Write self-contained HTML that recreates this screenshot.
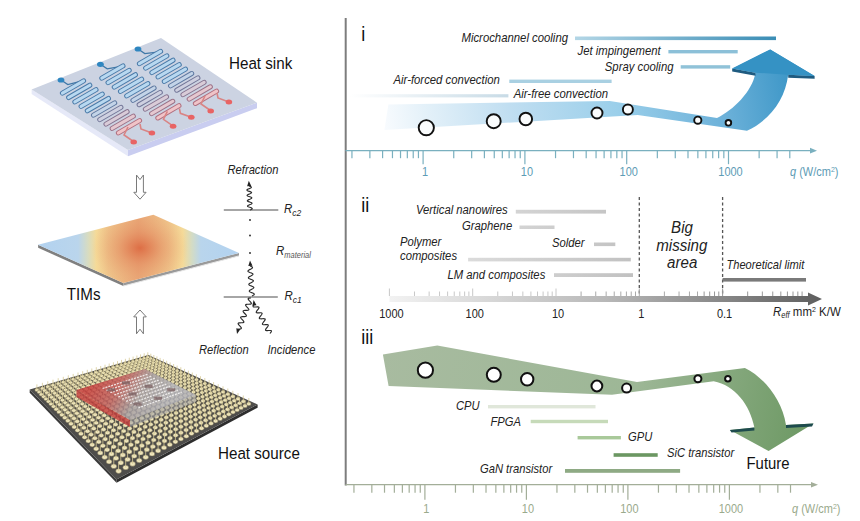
<!DOCTYPE html><html><head><meta charset="utf-8"><style>html,body{margin:0;padding:0;background:#fff;width:860px;height:521px;overflow:hidden}svg{display:block}text{font-family:"Liberation Sans",sans-serif}.it{font-style:italic}</style></head><body>
<svg width="860" height="521" viewBox="0 0 860 521">
<defs>
<linearGradient id="gBlue" gradientUnits="userSpaceOnUse" x1="384" y1="125" x2="800" y2="55"><stop offset="0" stop-color="#f8fbfe"/><stop offset="0.1" stop-color="#e4f1f9"/><stop offset="0.3" stop-color="#c0def1"/><stop offset="0.55" stop-color="#9bcfea"/><stop offset="0.8" stop-color="#6cb1d9"/><stop offset="1" stop-color="#3592c4"/></linearGradient>
<linearGradient id="gShaft" gradientUnits="userSpaceOnUse" x1="0" y1="130" x2="0" y2="50"><stop offset="0" stop-color="#8ec5e3"/><stop offset="1" stop-color="#3893c5"/></linearGradient>
<linearGradient id="gGreen" gradientUnits="userSpaceOnUse" x1="380" y1="360" x2="800" y2="440"><stop offset="0" stop-color="#a8bba0"/><stop offset="0.6" stop-color="#9db796"/><stop offset="1" stop-color="#6f9a66"/></linearGradient>
<linearGradient id="gAxis2" gradientUnits="userSpaceOnUse" x1="390" y1="0" x2="822" y2="0"><stop offset="0" stop-color="#f2f2f2"/><stop offset="0.5" stop-color="#b8b8b8"/><stop offset="1" stop-color="#5e5e5e"/></linearGradient>
<linearGradient id="gMicro" gradientUnits="userSpaceOnUse" x1="575" y1="0" x2="776" y2="0"><stop offset="0" stop-color="#b3d6e6"/><stop offset="1" stop-color="#3a8db5"/></linearGradient>
<linearGradient id="gAirFree" gradientUnits="userSpaceOnUse" x1="350" y1="0" x2="508" y2="0"><stop offset="0" stop-color="#ffffff"/><stop offset="1" stop-color="#c8dbe6"/></linearGradient>
<linearGradient id="gGrayBar" gradientUnits="userSpaceOnUse" x1="400" y1="0" x2="640" y2="0"><stop offset="0" stop-color="#e6e6e6"/><stop offset="1" stop-color="#c0c0c0"/></linearGradient>
<linearGradient id="gTim" gradientUnits="userSpaceOnUse" x1="38" y1="0" x2="239" y2="0"><stop offset="0" stop-color="#b2d2f0"/><stop offset="0.2" stop-color="#bad5ec"/><stop offset="0.25" stop-color="#d8dcc0"/><stop offset="0.29" stop-color="#f5da98"/><stop offset="0.35" stop-color="#efc48a"/><stop offset="0.5" stop-color="#e9a676"/><stop offset="0.65" stop-color="#efc48a"/><stop offset="0.72" stop-color="#f5da98"/><stop offset="0.765" stop-color="#d4dcc4"/><stop offset="0.81" stop-color="#b9d5ec"/><stop offset="1" stop-color="#b2d2f0"/></linearGradient><radialGradient id="gTimC" gradientUnits="userSpaceOnUse" cx="140" cy="248" r="48" gradientTransform="translate(140 248) scale(1 0.75) translate(-140 -248)"><stop offset="0" stop-color="#dc6840" stop-opacity="0.9"/><stop offset="0.45" stop-color="#e2845a" stop-opacity="0.45"/><stop offset="1" stop-color="#e8a070" stop-opacity="0"/></radialGradient>
<linearGradient id="gDie" gradientUnits="userSpaceOnUse" x1="100" y1="372" x2="160" y2="410"><stop offset="0" stop-color="#c83c3c"/><stop offset="0.35" stop-color="#c06060"/><stop offset="0.65" stop-color="#a8a0a4"/><stop offset="1" stop-color="#b4b4bc"/></linearGradient>
<linearGradient id="gSerp" gradientUnits="userSpaceOnUse" x1="70" y1="82" x2="130" y2="135"><stop offset="0" stop-color="#3c8fcf"/><stop offset="0.45" stop-color="#5f90c0"/><stop offset="0.7" stop-color="#a08aa8"/><stop offset="1" stop-color="#e07878"/></linearGradient></defs>
<polygon points="31.6,89.6 128,150 128,156.3 31.6,94.1" fill="#e6e9f8"/>
<polygon points="128,150 257,102.7 257,108.2 128,156.3" fill="#c9cdf0"/>
<polygon points="31.6,89.6 161,38.1 257,102.7 128,150" fill="#ccd3e2"/>
<path d="M61,80 L67.8,84.6 L80.42,81.44" fill="none" stroke="#3f78a8" stroke-width="1.3"/><line x1="62.40" y1="93.10" x2="83.60" y2="80.80" stroke="#4a7aa8" stroke-width="5.0" stroke-linecap="round"/><line x1="62.40" y1="93.10" x2="83.60" y2="80.80" stroke="#b8d8f0" stroke-width="3.1" stroke-linecap="round"/><line x1="68.62" y1="97.52" x2="89.82" y2="85.22" stroke="#4a7aa8" stroke-width="5.0" stroke-linecap="round"/><line x1="68.62" y1="97.52" x2="89.82" y2="85.22" stroke="#b8d8f0" stroke-width="3.1" stroke-linecap="round"/><line x1="74.84" y1="101.94" x2="96.04" y2="89.64" stroke="#4a7aa8" stroke-width="5.0" stroke-linecap="round"/><line x1="74.84" y1="101.94" x2="96.04" y2="89.64" stroke="#b8d8f0" stroke-width="3.1" stroke-linecap="round"/><line x1="81.06" y1="106.36" x2="102.26" y2="94.06" stroke="#4a7aa8" stroke-width="5.0" stroke-linecap="round"/><line x1="81.06" y1="106.36" x2="102.26" y2="94.06" stroke="#b8d8f0" stroke-width="3.1" stroke-linecap="round"/><line x1="87.28" y1="110.78" x2="108.48" y2="98.48" stroke="#4a7aa8" stroke-width="5.0" stroke-linecap="round"/><line x1="87.28" y1="110.78" x2="108.48" y2="98.48" stroke="#b8d8f0" stroke-width="3.1" stroke-linecap="round"/><line x1="93.50" y1="115.20" x2="114.70" y2="102.90" stroke="#5e78a0" stroke-width="5.0" stroke-linecap="round"/><line x1="93.50" y1="115.20" x2="114.70" y2="102.90" stroke="#c3d4e8" stroke-width="3.1" stroke-linecap="round"/><line x1="99.72" y1="119.62" x2="120.92" y2="107.32" stroke="#727698" stroke-width="5.0" stroke-linecap="round"/><line x1="99.72" y1="119.62" x2="120.92" y2="107.32" stroke="#ced0e0" stroke-width="3.1" stroke-linecap="round"/><line x1="105.94" y1="124.04" x2="127.14" y2="111.74" stroke="#877490" stroke-width="5.0" stroke-linecap="round"/><line x1="105.94" y1="124.04" x2="127.14" y2="111.74" stroke="#d9ccd8" stroke-width="3.1" stroke-linecap="round"/><line x1="112.16" y1="128.46" x2="133.36" y2="116.16" stroke="#9b7288" stroke-width="5.0" stroke-linecap="round"/><line x1="112.16" y1="128.46" x2="133.36" y2="116.16" stroke="#e5c8d0" stroke-width="3.1" stroke-linecap="round"/><line x1="118.38" y1="132.88" x2="139.58" y2="120.58" stroke="#b07080" stroke-width="5.0" stroke-linecap="round"/><line x1="118.38" y1="132.88" x2="139.58" y2="120.58" stroke="#f0c4c8" stroke-width="3.1" stroke-linecap="round"/><path d="M128,127 L124,135 L133.5,141.5 M140,124 L141,129 L151.9,133" fill="none" stroke="#d98484" stroke-width="1.6"/><ellipse cx="61" cy="80" rx="3.4" ry="2.6" fill="#2f86c0"/><ellipse cx="133.7" cy="142" rx="3.3" ry="2.5" fill="#e86464"/><ellipse cx="151.9" cy="133" rx="3.3" ry="2.5" fill="#e86464"/>
<path d="M100.4,64.3 L107.19999999999999,68.89999999999999 L119.82,66.54" fill="none" stroke="#3f78a8" stroke-width="1.3"/><line x1="101.80" y1="78.20" x2="123.00" y2="65.90" stroke="#4a7aa8" stroke-width="5.0" stroke-linecap="round"/><line x1="101.80" y1="78.20" x2="123.00" y2="65.90" stroke="#b8d8f0" stroke-width="3.1" stroke-linecap="round"/><line x1="108.02" y1="82.62" x2="129.22" y2="70.32" stroke="#4a7aa8" stroke-width="5.0" stroke-linecap="round"/><line x1="108.02" y1="82.62" x2="129.22" y2="70.32" stroke="#b8d8f0" stroke-width="3.1" stroke-linecap="round"/><line x1="114.24" y1="87.04" x2="135.44" y2="74.74" stroke="#4a7aa8" stroke-width="5.0" stroke-linecap="round"/><line x1="114.24" y1="87.04" x2="135.44" y2="74.74" stroke="#b8d8f0" stroke-width="3.1" stroke-linecap="round"/><line x1="120.46" y1="91.46" x2="141.66" y2="79.16" stroke="#4a7aa8" stroke-width="5.0" stroke-linecap="round"/><line x1="120.46" y1="91.46" x2="141.66" y2="79.16" stroke="#b8d8f0" stroke-width="3.1" stroke-linecap="round"/><line x1="126.68" y1="95.88" x2="147.88" y2="83.58" stroke="#4a7aa8" stroke-width="5.0" stroke-linecap="round"/><line x1="126.68" y1="95.88" x2="147.88" y2="83.58" stroke="#b8d8f0" stroke-width="3.1" stroke-linecap="round"/><line x1="132.90" y1="100.30" x2="154.10" y2="88.00" stroke="#5e78a0" stroke-width="5.0" stroke-linecap="round"/><line x1="132.90" y1="100.30" x2="154.10" y2="88.00" stroke="#c3d4e8" stroke-width="3.1" stroke-linecap="round"/><line x1="139.12" y1="104.72" x2="160.32" y2="92.42" stroke="#727698" stroke-width="5.0" stroke-linecap="round"/><line x1="139.12" y1="104.72" x2="160.32" y2="92.42" stroke="#ced0e0" stroke-width="3.1" stroke-linecap="round"/><line x1="145.34" y1="109.14" x2="166.54" y2="96.84" stroke="#877490" stroke-width="5.0" stroke-linecap="round"/><line x1="145.34" y1="109.14" x2="166.54" y2="96.84" stroke="#d9ccd8" stroke-width="3.1" stroke-linecap="round"/><line x1="151.56" y1="113.56" x2="172.76" y2="101.26" stroke="#9b7288" stroke-width="5.0" stroke-linecap="round"/><line x1="151.56" y1="113.56" x2="172.76" y2="101.26" stroke="#e5c8d0" stroke-width="3.1" stroke-linecap="round"/><line x1="157.78" y1="117.98" x2="178.98" y2="105.68" stroke="#b07080" stroke-width="5.0" stroke-linecap="round"/><line x1="157.78" y1="117.98" x2="178.98" y2="105.68" stroke="#f0c4c8" stroke-width="3.1" stroke-linecap="round"/><path d="M167.4,111.3 L163.4,119.3 L172.9,125.8 M179.4,108.3 L180.4,113.3 L191.3,117.3" fill="none" stroke="#d98484" stroke-width="1.6"/><ellipse cx="100.4" cy="64.3" rx="3.4" ry="2.6" fill="#2f86c0"/><ellipse cx="173.1" cy="126.3" rx="3.3" ry="2.5" fill="#e86464"/><ellipse cx="191.3" cy="117.3" rx="3.3" ry="2.5" fill="#e86464"/>
<path d="M138,49 L144.8,53.599999999999994 L157.42,52.04" fill="none" stroke="#3f78a8" stroke-width="1.3"/><line x1="139.40" y1="63.70" x2="160.60" y2="51.40" stroke="#4a7aa8" stroke-width="5.0" stroke-linecap="round"/><line x1="139.40" y1="63.70" x2="160.60" y2="51.40" stroke="#b8d8f0" stroke-width="3.1" stroke-linecap="round"/><line x1="145.62" y1="68.12" x2="166.82" y2="55.82" stroke="#4a7aa8" stroke-width="5.0" stroke-linecap="round"/><line x1="145.62" y1="68.12" x2="166.82" y2="55.82" stroke="#b8d8f0" stroke-width="3.1" stroke-linecap="round"/><line x1="151.84" y1="72.54" x2="173.04" y2="60.24" stroke="#4a7aa8" stroke-width="5.0" stroke-linecap="round"/><line x1="151.84" y1="72.54" x2="173.04" y2="60.24" stroke="#b8d8f0" stroke-width="3.1" stroke-linecap="round"/><line x1="158.06" y1="76.96" x2="179.26" y2="64.66" stroke="#4a7aa8" stroke-width="5.0" stroke-linecap="round"/><line x1="158.06" y1="76.96" x2="179.26" y2="64.66" stroke="#b8d8f0" stroke-width="3.1" stroke-linecap="round"/><line x1="164.28" y1="81.38" x2="185.48" y2="69.08" stroke="#4a7aa8" stroke-width="5.0" stroke-linecap="round"/><line x1="164.28" y1="81.38" x2="185.48" y2="69.08" stroke="#b8d8f0" stroke-width="3.1" stroke-linecap="round"/><line x1="170.50" y1="85.80" x2="191.70" y2="73.50" stroke="#5e78a0" stroke-width="5.0" stroke-linecap="round"/><line x1="170.50" y1="85.80" x2="191.70" y2="73.50" stroke="#c3d4e8" stroke-width="3.1" stroke-linecap="round"/><line x1="176.72" y1="90.22" x2="197.92" y2="77.92" stroke="#727698" stroke-width="5.0" stroke-linecap="round"/><line x1="176.72" y1="90.22" x2="197.92" y2="77.92" stroke="#ced0e0" stroke-width="3.1" stroke-linecap="round"/><line x1="182.94" y1="94.64" x2="204.14" y2="82.34" stroke="#877490" stroke-width="5.0" stroke-linecap="round"/><line x1="182.94" y1="94.64" x2="204.14" y2="82.34" stroke="#d9ccd8" stroke-width="3.1" stroke-linecap="round"/><line x1="189.16" y1="99.06" x2="210.36" y2="86.76" stroke="#9b7288" stroke-width="5.0" stroke-linecap="round"/><line x1="189.16" y1="99.06" x2="210.36" y2="86.76" stroke="#e5c8d0" stroke-width="3.1" stroke-linecap="round"/><line x1="195.38" y1="103.48" x2="216.58" y2="91.18" stroke="#b07080" stroke-width="5.0" stroke-linecap="round"/><line x1="195.38" y1="103.48" x2="216.58" y2="91.18" stroke="#f0c4c8" stroke-width="3.1" stroke-linecap="round"/><path d="M205,96 L201,104 L210.5,110.5 M217,93 L218,98 L228.9,102" fill="none" stroke="#d98484" stroke-width="1.6"/><ellipse cx="138" cy="49" rx="3.4" ry="2.6" fill="#2f86c0"/><ellipse cx="210.7" cy="111" rx="3.3" ry="2.5" fill="#e86464"/><ellipse cx="228.9" cy="102" rx="3.3" ry="2.5" fill="#e86464"/>
<polygon points="38.1,244.8 123.3,283 123.3,286 38.1,247.8" fill="#808080"/>
<polygon points="123.3,283 239,252.9 239,255.9 123.3,286" fill="#9a9a9a"/>
<polygon points="38.1,244.8 153.4,214.7 239,252.9 123.3,283" fill="url(#gTim)" />
<polygon points="38.1,244.8 153.4,214.7 239,252.9 123.3,283" fill="url(#gTimC)"/>
<line x1="123.3" y1="286" x2="239" y2="255.9" stroke="#e8e8e8" stroke-width="1"/>
<polygon points="29.7,389.5 116.5,479.5 116.5,482.7 29.7,392.7" fill="#3a3a3a"/>
<polygon points="116.5,479.5 257.6,404.5 257.6,407.7 116.5,482.7" fill="#2e2e2e"/>
<polygon points="29.7,389.5 148.4,355 257.6,404.5 116.5,479.5" fill="#4e4d4b"/>
<g fill="#efe6bc" stroke="#6c6248" stroke-width="0.45"><ellipse cx="36.9" cy="390.0" rx="2.15" ry="1.72"/><ellipse cx="39.1" cy="392.1" rx="2.17" ry="1.73"/><ellipse cx="41.3" cy="394.4" rx="2.18" ry="1.75"/><ellipse cx="43.7" cy="396.7" rx="2.20" ry="1.76"/><ellipse cx="46.0" cy="399.0" rx="2.23" ry="1.78"/><ellipse cx="48.5" cy="401.5" rx="2.25" ry="1.80"/><ellipse cx="51.0" cy="404.0" rx="2.27" ry="1.82"/><ellipse cx="53.6" cy="406.5" rx="2.29" ry="1.83"/><ellipse cx="56.3" cy="409.2" rx="2.32" ry="1.85"/><ellipse cx="59.0" cy="411.9" rx="2.34" ry="1.87"/><ellipse cx="61.9" cy="414.8" rx="2.37" ry="1.89"/><ellipse cx="64.8" cy="417.7" rx="2.39" ry="1.91"/><ellipse cx="67.9" cy="420.7" rx="2.42" ry="1.94"/><ellipse cx="71.0" cy="423.8" rx="2.45" ry="1.96"/><ellipse cx="74.2" cy="427.0" rx="2.48" ry="1.99"/><ellipse cx="77.6" cy="430.3" rx="2.51" ry="2.01"/><ellipse cx="81.0" cy="433.8" rx="2.55" ry="2.04"/><ellipse cx="84.6" cy="437.3" rx="2.58" ry="2.06"/><ellipse cx="88.3" cy="441.0" rx="2.62" ry="2.09"/><ellipse cx="92.2" cy="444.8" rx="2.65" ry="2.12"/><ellipse cx="96.2" cy="448.8" rx="2.69" ry="2.16"/><ellipse cx="100.3" cy="452.9" rx="2.74" ry="2.19"/><ellipse cx="104.7" cy="457.2" rx="2.78" ry="2.22"/><ellipse cx="109.1" cy="461.7" rx="2.82" ry="2.26"/><ellipse cx="113.8" cy="466.3" rx="2.87" ry="2.30"/><ellipse cx="118.6" cy="471.1" rx="2.92" ry="2.34"/><ellipse cx="42.4" cy="388.4" rx="2.13" ry="1.71"/><ellipse cx="44.6" cy="390.5" rx="2.15" ry="1.72"/><ellipse cx="46.9" cy="392.7" rx="2.17" ry="1.74"/><ellipse cx="49.3" cy="394.9" rx="2.19" ry="1.75"/><ellipse cx="51.7" cy="397.2" rx="2.21" ry="1.77"/><ellipse cx="54.2" cy="399.6" rx="2.23" ry="1.78"/><ellipse cx="56.8" cy="402.1" rx="2.25" ry="1.80"/><ellipse cx="59.5" cy="404.6" rx="2.28" ry="1.82"/><ellipse cx="62.2" cy="407.2" rx="2.30" ry="1.84"/><ellipse cx="65.0" cy="409.8" rx="2.32" ry="1.86"/><ellipse cx="67.9" cy="412.6" rx="2.35" ry="1.88"/><ellipse cx="70.9" cy="415.5" rx="2.37" ry="1.90"/><ellipse cx="74.0" cy="418.4" rx="2.40" ry="1.92"/><ellipse cx="77.2" cy="421.4" rx="2.43" ry="1.94"/><ellipse cx="80.5" cy="424.6" rx="2.46" ry="1.97"/><ellipse cx="83.9" cy="427.8" rx="2.49" ry="1.99"/><ellipse cx="87.5" cy="431.2" rx="2.52" ry="2.02"/><ellipse cx="91.1" cy="434.6" rx="2.56" ry="2.04"/><ellipse cx="94.9" cy="438.2" rx="2.59" ry="2.07"/><ellipse cx="98.8" cy="441.9" rx="2.63" ry="2.10"/><ellipse cx="102.9" cy="445.8" rx="2.67" ry="2.13"/><ellipse cx="107.1" cy="449.8" rx="2.71" ry="2.16"/><ellipse cx="111.5" cy="454.0" rx="2.75" ry="2.20"/><ellipse cx="116.0" cy="458.3" rx="2.79" ry="2.23"/><ellipse cx="120.8" cy="462.8" rx="2.84" ry="2.27"/><ellipse cx="125.7" cy="467.5" rx="2.89" ry="2.31"/><ellipse cx="47.8" cy="386.8" rx="2.12" ry="1.70"/><ellipse cx="50.1" cy="388.9" rx="2.14" ry="1.71"/><ellipse cx="52.4" cy="391.0" rx="2.16" ry="1.73"/><ellipse cx="54.8" cy="393.2" rx="2.18" ry="1.74"/><ellipse cx="57.3" cy="395.5" rx="2.20" ry="1.76"/><ellipse cx="59.9" cy="397.8" rx="2.22" ry="1.77"/><ellipse cx="62.5" cy="400.2" rx="2.24" ry="1.79"/><ellipse cx="65.2" cy="402.7" rx="2.26" ry="1.81"/><ellipse cx="68.0" cy="405.2" rx="2.28" ry="1.83"/><ellipse cx="70.9" cy="407.8" rx="2.30" ry="1.84"/><ellipse cx="73.9" cy="410.5" rx="2.33" ry="1.86"/><ellipse cx="76.9" cy="413.3" rx="2.35" ry="1.88"/><ellipse cx="80.1" cy="416.2" rx="2.38" ry="1.90"/><ellipse cx="83.3" cy="419.1" rx="2.41" ry="1.93"/><ellipse cx="86.7" cy="422.2" rx="2.44" ry="1.95"/><ellipse cx="90.2" cy="425.3" rx="2.47" ry="1.97"/><ellipse cx="93.8" cy="428.6" rx="2.50" ry="2.00"/><ellipse cx="97.5" cy="432.0" rx="2.53" ry="2.02"/><ellipse cx="101.3" cy="435.5" rx="2.56" ry="2.05"/><ellipse cx="105.3" cy="439.1" rx="2.60" ry="2.08"/><ellipse cx="109.4" cy="442.9" rx="2.64" ry="2.11"/><ellipse cx="113.7" cy="446.8" rx="2.68" ry="2.14"/><ellipse cx="118.2" cy="450.8" rx="2.72" ry="2.17"/><ellipse cx="122.8" cy="455.0" rx="2.76" ry="2.21"/><ellipse cx="127.6" cy="459.4" rx="2.80" ry="2.24"/><ellipse cx="132.6" cy="463.9" rx="2.85" ry="2.28"/><ellipse cx="53.0" cy="385.2" rx="2.11" ry="1.69"/><ellipse cx="55.4" cy="387.3" rx="2.13" ry="1.70"/><ellipse cx="57.8" cy="389.4" rx="2.14" ry="1.71"/><ellipse cx="60.3" cy="391.5" rx="2.16" ry="1.73"/><ellipse cx="62.8" cy="393.7" rx="2.18" ry="1.74"/><ellipse cx="65.4" cy="396.0" rx="2.20" ry="1.76"/><ellipse cx="68.1" cy="398.4" rx="2.22" ry="1.78"/><ellipse cx="70.8" cy="400.8" rx="2.24" ry="1.79"/><ellipse cx="73.7" cy="403.3" rx="2.26" ry="1.81"/><ellipse cx="76.6" cy="405.8" rx="2.29" ry="1.83"/><ellipse cx="79.6" cy="408.4" rx="2.31" ry="1.85"/><ellipse cx="82.8" cy="411.2" rx="2.34" ry="1.87"/><ellipse cx="86.0" cy="414.0" rx="2.36" ry="1.89"/><ellipse cx="89.3" cy="416.9" rx="2.39" ry="1.91"/><ellipse cx="92.7" cy="419.9" rx="2.42" ry="1.93"/><ellipse cx="96.2" cy="422.9" rx="2.45" ry="1.96"/><ellipse cx="99.9" cy="426.1" rx="2.48" ry="1.98"/><ellipse cx="103.6" cy="429.4" rx="2.51" ry="2.01"/><ellipse cx="107.6" cy="432.8" rx="2.54" ry="2.03"/><ellipse cx="111.6" cy="436.4" rx="2.57" ry="2.06"/><ellipse cx="115.8" cy="440.0" rx="2.61" ry="2.09"/><ellipse cx="120.1" cy="443.8" rx="2.65" ry="2.12"/><ellipse cx="124.6" cy="447.8" rx="2.69" ry="2.15"/><ellipse cx="129.3" cy="451.8" rx="2.73" ry="2.18"/><ellipse cx="134.2" cy="456.1" rx="2.77" ry="2.22"/><ellipse cx="139.2" cy="460.5" rx="2.82" ry="2.25"/><ellipse cx="58.2" cy="383.7" rx="2.10" ry="1.68"/><ellipse cx="60.6" cy="385.7" rx="2.11" ry="1.69"/><ellipse cx="63.1" cy="387.7" rx="2.13" ry="1.70"/><ellipse cx="65.6" cy="389.9" rx="2.15" ry="1.72"/><ellipse cx="68.2" cy="392.0" rx="2.17" ry="1.73"/><ellipse cx="70.8" cy="394.3" rx="2.19" ry="1.75"/><ellipse cx="73.5" cy="396.6" rx="2.21" ry="1.76"/><ellipse cx="76.4" cy="398.9" rx="2.23" ry="1.78"/><ellipse cx="79.2" cy="401.4" rx="2.25" ry="1.80"/><ellipse cx="82.2" cy="403.9" rx="2.27" ry="1.82"/><ellipse cx="85.3" cy="406.4" rx="2.29" ry="1.84"/><ellipse cx="88.5" cy="409.1" rx="2.32" ry="1.85"/><ellipse cx="91.7" cy="411.8" rx="2.34" ry="1.87"/><ellipse cx="95.1" cy="414.7" rx="2.37" ry="1.90"/><ellipse cx="98.6" cy="417.6" rx="2.40" ry="1.92"/><ellipse cx="102.1" cy="420.6" rx="2.42" ry="1.94"/><ellipse cx="105.9" cy="423.7" rx="2.45" ry="1.96"/><ellipse cx="109.7" cy="426.9" rx="2.48" ry="1.99"/><ellipse cx="113.6" cy="430.2" rx="2.52" ry="2.01"/><ellipse cx="117.7" cy="433.7" rx="2.55" ry="2.04"/><ellipse cx="122.0" cy="437.3" rx="2.58" ry="2.07"/><ellipse cx="126.4" cy="440.9" rx="2.62" ry="2.10"/><ellipse cx="130.9" cy="444.8" rx="2.66" ry="2.13"/><ellipse cx="135.7" cy="448.7" rx="2.70" ry="2.16"/><ellipse cx="140.6" cy="452.9" rx="2.74" ry="2.19"/><ellipse cx="145.7" cy="457.2" rx="2.78" ry="2.23"/><ellipse cx="63.3" cy="382.2" rx="2.08" ry="1.67"/><ellipse cx="65.7" cy="384.2" rx="2.10" ry="1.68"/><ellipse cx="68.2" cy="386.2" rx="2.12" ry="1.69"/><ellipse cx="70.8" cy="388.2" rx="2.13" ry="1.71"/><ellipse cx="73.4" cy="390.4" rx="2.15" ry="1.72"/><ellipse cx="76.1" cy="392.6" rx="2.17" ry="1.74"/><ellipse cx="78.9" cy="394.8" rx="2.19" ry="1.75"/><ellipse cx="81.7" cy="397.1" rx="2.21" ry="1.77"/><ellipse cx="84.7" cy="399.5" rx="2.23" ry="1.79"/><ellipse cx="87.7" cy="401.9" rx="2.25" ry="1.80"/><ellipse cx="90.8" cy="404.5" rx="2.28" ry="1.82"/><ellipse cx="94.0" cy="407.1" rx="2.30" ry="1.84"/><ellipse cx="97.4" cy="409.7" rx="2.32" ry="1.86"/><ellipse cx="100.8" cy="412.5" rx="2.35" ry="1.88"/><ellipse cx="104.3" cy="415.4" rx="2.38" ry="1.90"/><ellipse cx="107.9" cy="418.3" rx="2.40" ry="1.92"/><ellipse cx="111.7" cy="421.3" rx="2.43" ry="1.95"/><ellipse cx="115.6" cy="424.5" rx="2.46" ry="1.97"/><ellipse cx="119.6" cy="427.7" rx="2.49" ry="1.99"/><ellipse cx="123.7" cy="431.1" rx="2.52" ry="2.02"/><ellipse cx="128.0" cy="434.5" rx="2.56" ry="2.05"/><ellipse cx="132.5" cy="438.1" rx="2.59" ry="2.07"/><ellipse cx="137.1" cy="441.9" rx="2.63" ry="2.10"/><ellipse cx="141.9" cy="445.7" rx="2.67" ry="2.13"/><ellipse cx="146.8" cy="449.7" rx="2.71" ry="2.17"/><ellipse cx="152.0" cy="453.9" rx="2.75" ry="2.20"/><ellipse cx="68.3" cy="380.7" rx="2.07" ry="1.66"/><ellipse cx="70.7" cy="382.6" rx="2.09" ry="1.67"/><ellipse cx="73.3" cy="384.6" rx="2.10" ry="1.68"/><ellipse cx="75.9" cy="386.7" rx="2.12" ry="1.70"/><ellipse cx="78.6" cy="388.7" rx="2.14" ry="1.71"/><ellipse cx="81.3" cy="390.9" rx="2.16" ry="1.73"/><ellipse cx="84.1" cy="393.1" rx="2.18" ry="1.74"/><ellipse cx="87.0" cy="395.3" rx="2.20" ry="1.76"/><ellipse cx="90.0" cy="397.7" rx="2.22" ry="1.77"/><ellipse cx="93.1" cy="400.1" rx="2.24" ry="1.79"/><ellipse cx="96.3" cy="402.5" rx="2.26" ry="1.81"/><ellipse cx="99.5" cy="405.1" rx="2.28" ry="1.83"/><ellipse cx="102.9" cy="407.7" rx="2.31" ry="1.85"/><ellipse cx="106.3" cy="410.4" rx="2.33" ry="1.87"/><ellipse cx="109.9" cy="413.2" rx="2.36" ry="1.89"/><ellipse cx="113.6" cy="416.1" rx="2.38" ry="1.91"/><ellipse cx="117.4" cy="419.0" rx="2.41" ry="1.93"/><ellipse cx="121.3" cy="422.1" rx="2.44" ry="1.95"/><ellipse cx="125.4" cy="425.2" rx="2.47" ry="1.98"/><ellipse cx="129.6" cy="428.5" rx="2.50" ry="2.00"/><ellipse cx="133.9" cy="431.9" rx="2.53" ry="2.03"/><ellipse cx="138.4" cy="435.4" rx="2.57" ry="2.05"/><ellipse cx="143.0" cy="439.0" rx="2.60" ry="2.08"/><ellipse cx="147.9" cy="442.8" rx="2.64" ry="2.11"/><ellipse cx="152.9" cy="446.7" rx="2.68" ry="2.14"/><ellipse cx="158.1" cy="450.8" rx="2.72" ry="2.18"/><ellipse cx="73.2" cy="379.3" rx="2.06" ry="1.65"/><ellipse cx="75.7" cy="381.2" rx="2.08" ry="1.66"/><ellipse cx="78.2" cy="383.1" rx="2.09" ry="1.67"/><ellipse cx="80.9" cy="385.1" rx="2.11" ry="1.69"/><ellipse cx="83.6" cy="387.1" rx="2.13" ry="1.70"/><ellipse cx="86.4" cy="389.2" rx="2.14" ry="1.72"/><ellipse cx="89.3" cy="391.4" rx="2.16" ry="1.73"/><ellipse cx="92.2" cy="393.6" rx="2.18" ry="1.75"/><ellipse cx="95.2" cy="395.9" rx="2.20" ry="1.76"/><ellipse cx="98.3" cy="398.2" rx="2.22" ry="1.78"/><ellipse cx="101.6" cy="400.7" rx="2.24" ry="1.80"/><ellipse cx="104.9" cy="403.1" rx="2.27" ry="1.81"/><ellipse cx="108.3" cy="405.7" rx="2.29" ry="1.83"/><ellipse cx="111.8" cy="408.3" rx="2.31" ry="1.85"/><ellipse cx="115.4" cy="411.1" rx="2.34" ry="1.87"/><ellipse cx="119.1" cy="413.9" rx="2.36" ry="1.89"/><ellipse cx="122.9" cy="416.8" rx="2.39" ry="1.91"/><ellipse cx="126.9" cy="419.8" rx="2.42" ry="1.93"/><ellipse cx="131.0" cy="422.8" rx="2.45" ry="1.96"/><ellipse cx="135.3" cy="426.0" rx="2.48" ry="1.98"/><ellipse cx="139.6" cy="429.3" rx="2.51" ry="2.01"/><ellipse cx="144.2" cy="432.8" rx="2.54" ry="2.03"/><ellipse cx="148.9" cy="436.3" rx="2.58" ry="2.06"/><ellipse cx="153.7" cy="440.0" rx="2.61" ry="2.09"/><ellipse cx="158.8" cy="443.7" rx="2.65" ry="2.12"/><ellipse cx="164.0" cy="447.7" rx="2.69" ry="2.15"/><ellipse cx="78.0" cy="377.9" rx="2.05" ry="1.64"/><ellipse cx="80.5" cy="379.7" rx="2.06" ry="1.65"/><ellipse cx="83.1" cy="381.6" rx="2.08" ry="1.66"/><ellipse cx="85.8" cy="383.6" rx="2.10" ry="1.68"/><ellipse cx="88.6" cy="385.6" rx="2.11" ry="1.69"/><ellipse cx="91.4" cy="387.6" rx="2.13" ry="1.71"/><ellipse cx="94.3" cy="389.7" rx="2.15" ry="1.72"/><ellipse cx="97.3" cy="391.9" rx="2.17" ry="1.73"/><ellipse cx="100.3" cy="394.1" rx="2.19" ry="1.75"/><ellipse cx="103.5" cy="396.4" rx="2.21" ry="1.77"/><ellipse cx="106.7" cy="398.8" rx="2.23" ry="1.78"/><ellipse cx="110.1" cy="401.2" rx="2.25" ry="1.80"/><ellipse cx="113.5" cy="403.7" rx="2.27" ry="1.82"/><ellipse cx="117.1" cy="406.3" rx="2.30" ry="1.84"/><ellipse cx="120.7" cy="409.0" rx="2.32" ry="1.86"/><ellipse cx="124.5" cy="411.7" rx="2.35" ry="1.88"/><ellipse cx="128.4" cy="414.6" rx="2.37" ry="1.90"/><ellipse cx="132.4" cy="417.5" rx="2.40" ry="1.92"/><ellipse cx="136.5" cy="420.5" rx="2.43" ry="1.94"/><ellipse cx="140.8" cy="423.6" rx="2.46" ry="1.96"/><ellipse cx="145.2" cy="426.8" rx="2.49" ry="1.99"/><ellipse cx="149.8" cy="430.2" rx="2.52" ry="2.01"/><ellipse cx="154.5" cy="433.6" rx="2.55" ry="2.04"/><ellipse cx="159.4" cy="437.2" rx="2.59" ry="2.07"/><ellipse cx="164.5" cy="440.9" rx="2.62" ry="2.10"/><ellipse cx="169.8" cy="444.7" rx="2.66" ry="2.13"/><ellipse cx="82.7" cy="376.5" rx="2.04" ry="1.63"/><ellipse cx="85.2" cy="378.3" rx="2.05" ry="1.64"/><ellipse cx="87.9" cy="380.2" rx="2.07" ry="1.66"/><ellipse cx="90.6" cy="382.1" rx="2.09" ry="1.67"/><ellipse cx="93.4" cy="384.0" rx="2.10" ry="1.68"/><ellipse cx="96.3" cy="386.1" rx="2.12" ry="1.70"/><ellipse cx="99.2" cy="388.1" rx="2.14" ry="1.71"/><ellipse cx="102.2" cy="390.3" rx="2.15" ry="1.72"/><ellipse cx="105.3" cy="392.4" rx="2.17" ry="1.74"/><ellipse cx="108.5" cy="394.7" rx="2.19" ry="1.75"/><ellipse cx="111.8" cy="397.0" rx="2.21" ry="1.77"/><ellipse cx="115.2" cy="399.4" rx="2.23" ry="1.79"/><ellipse cx="118.7" cy="401.8" rx="2.26" ry="1.81"/><ellipse cx="122.3" cy="404.4" rx="2.28" ry="1.82"/><ellipse cx="126.0" cy="407.0" rx="2.30" ry="1.84"/><ellipse cx="129.8" cy="409.6" rx="2.33" ry="1.86"/><ellipse cx="133.7" cy="412.4" rx="2.35" ry="1.88"/><ellipse cx="137.7" cy="415.3" rx="2.38" ry="1.90"/><ellipse cx="141.9" cy="418.2" rx="2.41" ry="1.92"/><ellipse cx="146.2" cy="421.2" rx="2.43" ry="1.95"/><ellipse cx="150.7" cy="424.4" rx="2.46" ry="1.97"/><ellipse cx="155.3" cy="427.6" rx="2.49" ry="2.00"/><ellipse cx="160.1" cy="431.0" rx="2.53" ry="2.02"/><ellipse cx="165.0" cy="434.5" rx="2.56" ry="2.05"/><ellipse cx="170.1" cy="438.1" rx="2.60" ry="2.08"/><ellipse cx="175.4" cy="441.8" rx="2.63" ry="2.11"/><ellipse cx="87.3" cy="375.1" rx="2.03" ry="1.62"/><ellipse cx="89.9" cy="376.9" rx="2.04" ry="1.63"/><ellipse cx="92.6" cy="378.7" rx="2.06" ry="1.65"/><ellipse cx="95.3" cy="380.6" rx="2.07" ry="1.66"/><ellipse cx="98.2" cy="382.5" rx="2.09" ry="1.67"/><ellipse cx="101.1" cy="384.5" rx="2.11" ry="1.69"/><ellipse cx="104.1" cy="386.5" rx="2.12" ry="1.70"/><ellipse cx="107.1" cy="388.6" rx="2.14" ry="1.71"/><ellipse cx="110.3" cy="390.8" rx="2.16" ry="1.73"/><ellipse cx="113.5" cy="393.0" rx="2.18" ry="1.74"/><ellipse cx="116.8" cy="395.2" rx="2.20" ry="1.76"/><ellipse cx="120.2" cy="397.6" rx="2.22" ry="1.78"/><ellipse cx="123.7" cy="400.0" rx="2.24" ry="1.79"/><ellipse cx="127.4" cy="402.4" rx="2.26" ry="1.81"/><ellipse cx="131.1" cy="405.0" rx="2.29" ry="1.83"/><ellipse cx="134.9" cy="407.6" rx="2.31" ry="1.85"/><ellipse cx="138.9" cy="410.3" rx="2.33" ry="1.87"/><ellipse cx="143.0" cy="413.1" rx="2.36" ry="1.89"/><ellipse cx="147.2" cy="416.0" rx="2.39" ry="1.91"/><ellipse cx="151.5" cy="418.9" rx="2.41" ry="1.93"/><ellipse cx="156.0" cy="422.0" rx="2.44" ry="1.95"/><ellipse cx="160.7" cy="425.2" rx="2.47" ry="1.98"/><ellipse cx="165.5" cy="428.4" rx="2.50" ry="2.00"/><ellipse cx="170.4" cy="431.8" rx="2.54" ry="2.03"/><ellipse cx="175.6" cy="435.3" rx="2.57" ry="2.06"/><ellipse cx="180.9" cy="439.0" rx="2.61" ry="2.08"/><ellipse cx="91.8" cy="373.8" rx="2.02" ry="1.61"/><ellipse cx="94.5" cy="375.5" rx="2.03" ry="1.63"/><ellipse cx="97.2" cy="377.3" rx="2.05" ry="1.64"/><ellipse cx="100.0" cy="379.2" rx="2.06" ry="1.65"/><ellipse cx="102.8" cy="381.0" rx="2.08" ry="1.66"/><ellipse cx="105.8" cy="383.0" rx="2.09" ry="1.68"/><ellipse cx="108.8" cy="385.0" rx="2.11" ry="1.69"/><ellipse cx="111.9" cy="387.0" rx="2.13" ry="1.70"/><ellipse cx="115.1" cy="389.1" rx="2.15" ry="1.72"/><ellipse cx="118.3" cy="391.3" rx="2.16" ry="1.73"/><ellipse cx="121.7" cy="393.5" rx="2.18" ry="1.75"/><ellipse cx="125.1" cy="395.8" rx="2.20" ry="1.76"/><ellipse cx="128.7" cy="398.1" rx="2.22" ry="1.78"/><ellipse cx="132.3" cy="400.5" rx="2.25" ry="1.80"/><ellipse cx="136.1" cy="403.0" rx="2.27" ry="1.81"/><ellipse cx="140.0" cy="405.6" rx="2.29" ry="1.83"/><ellipse cx="144.0" cy="408.2" rx="2.32" ry="1.85"/><ellipse cx="148.1" cy="411.0" rx="2.34" ry="1.87"/><ellipse cx="152.3" cy="413.8" rx="2.37" ry="1.89"/><ellipse cx="156.7" cy="416.7" rx="2.39" ry="1.91"/><ellipse cx="161.2" cy="419.7" rx="2.42" ry="1.94"/><ellipse cx="165.9" cy="422.7" rx="2.45" ry="1.96"/><ellipse cx="170.7" cy="425.9" rx="2.48" ry="1.98"/><ellipse cx="175.7" cy="429.2" rx="2.51" ry="2.01"/><ellipse cx="180.9" cy="432.7" rx="2.55" ry="2.04"/><ellipse cx="186.3" cy="436.2" rx="2.58" ry="2.06"/><ellipse cx="96.3" cy="372.4" rx="2.01" ry="1.61"/><ellipse cx="99.0" cy="374.2" rx="2.02" ry="1.62"/><ellipse cx="101.7" cy="375.9" rx="2.04" ry="1.63"/><ellipse cx="104.5" cy="377.7" rx="2.05" ry="1.64"/><ellipse cx="107.4" cy="379.6" rx="2.07" ry="1.65"/><ellipse cx="110.4" cy="381.5" rx="2.08" ry="1.67"/><ellipse cx="113.4" cy="383.4" rx="2.10" ry="1.68"/><ellipse cx="116.6" cy="385.5" rx="2.12" ry="1.69"/><ellipse cx="119.8" cy="387.5" rx="2.13" ry="1.71"/><ellipse cx="123.1" cy="389.6" rx="2.15" ry="1.72"/><ellipse cx="126.5" cy="391.8" rx="2.17" ry="1.74"/><ellipse cx="129.9" cy="394.0" rx="2.19" ry="1.75"/><ellipse cx="133.5" cy="396.3" rx="2.21" ry="1.77"/><ellipse cx="137.2" cy="398.7" rx="2.23" ry="1.78"/><ellipse cx="141.0" cy="401.1" rx="2.25" ry="1.80"/><ellipse cx="144.9" cy="403.6" rx="2.27" ry="1.82"/><ellipse cx="148.9" cy="406.2" rx="2.30" ry="1.84"/><ellipse cx="153.1" cy="408.9" rx="2.32" ry="1.86"/><ellipse cx="157.3" cy="411.6" rx="2.35" ry="1.88"/><ellipse cx="161.8" cy="414.5" rx="2.37" ry="1.90"/><ellipse cx="166.3" cy="417.4" rx="2.40" ry="1.92"/><ellipse cx="171.0" cy="420.4" rx="2.43" ry="1.94"/><ellipse cx="175.9" cy="423.5" rx="2.46" ry="1.97"/><ellipse cx="180.9" cy="426.7" rx="2.49" ry="1.99"/><ellipse cx="186.1" cy="430.1" rx="2.52" ry="2.02"/><ellipse cx="191.5" cy="433.5" rx="2.55" ry="2.04"/><ellipse cx="100.7" cy="371.1" rx="2.00" ry="1.60"/><ellipse cx="103.4" cy="372.8" rx="2.01" ry="1.61"/><ellipse cx="106.2" cy="374.6" rx="2.03" ry="1.62"/><ellipse cx="109.0" cy="376.3" rx="2.04" ry="1.63"/><ellipse cx="111.9" cy="378.2" rx="2.05" ry="1.64"/><ellipse cx="114.9" cy="380.0" rx="2.07" ry="1.66"/><ellipse cx="118.0" cy="381.9" rx="2.09" ry="1.67"/><ellipse cx="121.2" cy="383.9" rx="2.10" ry="1.68"/><ellipse cx="124.4" cy="385.9" rx="2.12" ry="1.70"/><ellipse cx="127.7" cy="388.0" rx="2.14" ry="1.71"/><ellipse cx="131.1" cy="390.1" rx="2.16" ry="1.73"/><ellipse cx="134.6" cy="392.3" rx="2.18" ry="1.74"/><ellipse cx="138.3" cy="394.6" rx="2.19" ry="1.76"/><ellipse cx="142.0" cy="396.9" rx="2.22" ry="1.77"/><ellipse cx="145.8" cy="399.3" rx="2.24" ry="1.79"/><ellipse cx="149.7" cy="401.7" rx="2.26" ry="1.81"/><ellipse cx="153.8" cy="404.2" rx="2.28" ry="1.82"/><ellipse cx="158.0" cy="406.9" rx="2.30" ry="1.84"/><ellipse cx="162.3" cy="409.5" rx="2.33" ry="1.86"/><ellipse cx="166.7" cy="412.3" rx="2.35" ry="1.88"/><ellipse cx="171.3" cy="415.2" rx="2.38" ry="1.90"/><ellipse cx="176.0" cy="418.1" rx="2.41" ry="1.93"/><ellipse cx="180.9" cy="421.1" rx="2.44" ry="1.95"/><ellipse cx="185.9" cy="424.3" rx="2.47" ry="1.97"/><ellipse cx="191.1" cy="427.5" rx="2.50" ry="2.00"/><ellipse cx="196.5" cy="430.9" rx="2.53" ry="2.02"/><ellipse cx="105.0" cy="369.9" rx="1.99" ry="1.59"/><ellipse cx="107.7" cy="371.5" rx="2.00" ry="1.60"/><ellipse cx="110.5" cy="373.2" rx="2.01" ry="1.61"/><ellipse cx="113.4" cy="375.0" rx="2.03" ry="1.62"/><ellipse cx="116.4" cy="376.8" rx="2.04" ry="1.64"/><ellipse cx="119.4" cy="378.6" rx="2.06" ry="1.65"/><ellipse cx="122.5" cy="380.5" rx="2.07" ry="1.66"/><ellipse cx="125.7" cy="382.4" rx="2.09" ry="1.67"/><ellipse cx="128.9" cy="384.4" rx="2.11" ry="1.69"/><ellipse cx="132.3" cy="386.4" rx="2.12" ry="1.70"/><ellipse cx="135.7" cy="388.5" rx="2.14" ry="1.71"/><ellipse cx="139.3" cy="390.6" rx="2.16" ry="1.73"/><ellipse cx="142.9" cy="392.9" rx="2.18" ry="1.74"/><ellipse cx="146.6" cy="395.1" rx="2.20" ry="1.76"/><ellipse cx="150.5" cy="397.5" rx="2.22" ry="1.78"/><ellipse cx="154.5" cy="399.8" rx="2.24" ry="1.79"/><ellipse cx="158.5" cy="402.3" rx="2.26" ry="1.81"/><ellipse cx="162.7" cy="404.9" rx="2.29" ry="1.83"/><ellipse cx="167.1" cy="407.5" rx="2.31" ry="1.85"/><ellipse cx="171.5" cy="410.2" rx="2.34" ry="1.87"/><ellipse cx="176.1" cy="413.0" rx="2.36" ry="1.89"/><ellipse cx="180.9" cy="415.9" rx="2.39" ry="1.91"/><ellipse cx="185.8" cy="418.8" rx="2.42" ry="1.93"/><ellipse cx="190.8" cy="421.9" rx="2.44" ry="1.96"/><ellipse cx="196.1" cy="425.1" rx="2.47" ry="1.98"/><ellipse cx="201.5" cy="428.3" rx="2.51" ry="2.00"/><ellipse cx="109.2" cy="368.6" rx="1.98" ry="1.58"/><ellipse cx="112.0" cy="370.3" rx="1.99" ry="1.59"/><ellipse cx="114.8" cy="371.9" rx="2.00" ry="1.60"/><ellipse cx="117.7" cy="373.6" rx="2.02" ry="1.61"/><ellipse cx="120.7" cy="375.4" rx="2.03" ry="1.63"/><ellipse cx="123.7" cy="377.2" rx="2.05" ry="1.64"/><ellipse cx="126.9" cy="379.0" rx="2.06" ry="1.65"/><ellipse cx="130.1" cy="380.9" rx="2.08" ry="1.66"/><ellipse cx="133.4" cy="382.9" rx="2.10" ry="1.68"/><ellipse cx="136.8" cy="384.9" rx="2.11" ry="1.69"/><ellipse cx="140.2" cy="386.9" rx="2.13" ry="1.70"/><ellipse cx="143.8" cy="389.0" rx="2.15" ry="1.72"/><ellipse cx="147.5" cy="391.2" rx="2.17" ry="1.73"/><ellipse cx="151.2" cy="393.4" rx="2.19" ry="1.75"/><ellipse cx="155.1" cy="395.7" rx="2.21" ry="1.76"/><ellipse cx="159.1" cy="398.0" rx="2.23" ry="1.78"/><ellipse cx="163.2" cy="400.4" rx="2.25" ry="1.80"/><ellipse cx="167.4" cy="402.9" rx="2.27" ry="1.82"/><ellipse cx="171.8" cy="405.5" rx="2.29" ry="1.83"/><ellipse cx="176.2" cy="408.1" rx="2.32" ry="1.85"/><ellipse cx="180.9" cy="410.9" rx="2.34" ry="1.87"/><ellipse cx="185.6" cy="413.7" rx="2.37" ry="1.89"/><ellipse cx="190.6" cy="416.6" rx="2.40" ry="1.92"/><ellipse cx="195.6" cy="419.6" rx="2.42" ry="1.94"/><ellipse cx="200.9" cy="422.7" rx="2.45" ry="1.96"/><ellipse cx="206.3" cy="425.8" rx="2.48" ry="1.99"/><ellipse cx="113.4" cy="367.4" rx="1.97" ry="1.58"/><ellipse cx="116.2" cy="369.0" rx="1.98" ry="1.59"/><ellipse cx="119.0" cy="370.6" rx="1.99" ry="1.60"/><ellipse cx="122.0" cy="372.3" rx="2.01" ry="1.61"/><ellipse cx="125.0" cy="374.0" rx="2.02" ry="1.62"/><ellipse cx="128.0" cy="375.8" rx="2.04" ry="1.63"/><ellipse cx="131.2" cy="377.6" rx="2.05" ry="1.64"/><ellipse cx="134.4" cy="379.5" rx="2.07" ry="1.65"/><ellipse cx="137.7" cy="381.4" rx="2.08" ry="1.67"/><ellipse cx="141.1" cy="383.3" rx="2.10" ry="1.68"/><ellipse cx="144.6" cy="385.3" rx="2.12" ry="1.69"/><ellipse cx="148.2" cy="387.4" rx="2.13" ry="1.71"/><ellipse cx="151.9" cy="389.5" rx="2.15" ry="1.72"/><ellipse cx="155.7" cy="391.7" rx="2.17" ry="1.74"/><ellipse cx="159.6" cy="393.9" rx="2.19" ry="1.75"/><ellipse cx="163.6" cy="396.2" rx="2.21" ry="1.77"/><ellipse cx="167.7" cy="398.6" rx="2.23" ry="1.79"/><ellipse cx="172.0" cy="401.0" rx="2.25" ry="1.80"/><ellipse cx="176.4" cy="403.5" rx="2.28" ry="1.82"/><ellipse cx="180.9" cy="406.1" rx="2.30" ry="1.84"/><ellipse cx="185.5" cy="408.8" rx="2.32" ry="1.86"/><ellipse cx="190.3" cy="411.5" rx="2.35" ry="1.88"/><ellipse cx="195.2" cy="414.4" rx="2.38" ry="1.90"/><ellipse cx="200.3" cy="417.3" rx="2.40" ry="1.92"/><ellipse cx="205.6" cy="420.3" rx="2.43" ry="1.94"/><ellipse cx="211.0" cy="423.4" rx="2.46" ry="1.97"/><ellipse cx="117.5" cy="366.2" rx="1.96" ry="1.57"/><ellipse cx="120.3" cy="367.8" rx="1.97" ry="1.58"/><ellipse cx="123.2" cy="369.4" rx="1.99" ry="1.59"/><ellipse cx="126.1" cy="371.0" rx="2.00" ry="1.60"/><ellipse cx="129.1" cy="372.7" rx="2.01" ry="1.61"/><ellipse cx="132.2" cy="374.5" rx="2.03" ry="1.62"/><ellipse cx="135.4" cy="376.2" rx="2.04" ry="1.63"/><ellipse cx="138.7" cy="378.0" rx="2.06" ry="1.64"/><ellipse cx="142.0" cy="379.9" rx="2.07" ry="1.66"/><ellipse cx="145.4" cy="381.8" rx="2.09" ry="1.67"/><ellipse cx="149.0" cy="383.8" rx="2.10" ry="1.68"/><ellipse cx="152.6" cy="385.8" rx="2.12" ry="1.70"/><ellipse cx="156.3" cy="387.9" rx="2.14" ry="1.71"/><ellipse cx="160.1" cy="390.0" rx="2.16" ry="1.73"/><ellipse cx="164.0" cy="392.2" rx="2.18" ry="1.74"/><ellipse cx="168.0" cy="394.5" rx="2.20" ry="1.76"/><ellipse cx="172.2" cy="396.8" rx="2.22" ry="1.77"/><ellipse cx="176.5" cy="399.2" rx="2.24" ry="1.79"/><ellipse cx="180.8" cy="401.6" rx="2.26" ry="1.81"/><ellipse cx="185.4" cy="404.1" rx="2.28" ry="1.83"/><ellipse cx="190.0" cy="406.7" rx="2.31" ry="1.85"/><ellipse cx="194.8" cy="409.4" rx="2.33" ry="1.86"/><ellipse cx="199.8" cy="412.2" rx="2.36" ry="1.89"/><ellipse cx="204.9" cy="415.0" rx="2.38" ry="1.91"/><ellipse cx="210.2" cy="418.0" rx="2.41" ry="1.93"/><ellipse cx="215.6" cy="421.0" rx="2.44" ry="1.95"/><ellipse cx="121.5" cy="365.0" rx="1.95" ry="1.56"/><ellipse cx="124.3" cy="366.6" rx="1.96" ry="1.57"/><ellipse cx="127.2" cy="368.1" rx="1.98" ry="1.58"/><ellipse cx="130.2" cy="369.8" rx="1.99" ry="1.59"/><ellipse cx="133.3" cy="371.4" rx="2.00" ry="1.60"/><ellipse cx="136.4" cy="373.1" rx="2.02" ry="1.61"/><ellipse cx="139.6" cy="374.9" rx="2.03" ry="1.62"/><ellipse cx="142.9" cy="376.6" rx="2.05" ry="1.64"/><ellipse cx="146.2" cy="378.5" rx="2.06" ry="1.65"/><ellipse cx="149.7" cy="380.4" rx="2.08" ry="1.66"/><ellipse cx="153.2" cy="382.3" rx="2.09" ry="1.67"/><ellipse cx="156.8" cy="384.3" rx="2.11" ry="1.69"/><ellipse cx="160.6" cy="386.3" rx="2.13" ry="1.70"/><ellipse cx="164.4" cy="388.4" rx="2.14" ry="1.72"/><ellipse cx="168.3" cy="390.5" rx="2.16" ry="1.73"/><ellipse cx="172.4" cy="392.7" rx="2.18" ry="1.75"/><ellipse cx="176.6" cy="395.0" rx="2.20" ry="1.76"/><ellipse cx="180.8" cy="397.3" rx="2.22" ry="1.78"/><ellipse cx="185.2" cy="399.7" rx="2.24" ry="1.80"/><ellipse cx="189.8" cy="402.2" rx="2.27" ry="1.81"/><ellipse cx="194.5" cy="404.8" rx="2.29" ry="1.83"/><ellipse cx="199.3" cy="407.4" rx="2.31" ry="1.85"/><ellipse cx="204.2" cy="410.1" rx="2.34" ry="1.87"/><ellipse cx="209.4" cy="412.9" rx="2.36" ry="1.89"/><ellipse cx="214.7" cy="415.8" rx="2.39" ry="1.91"/><ellipse cx="220.1" cy="418.7" rx="2.42" ry="1.93"/><ellipse cx="125.4" cy="363.8" rx="1.94" ry="1.55"/><ellipse cx="128.3" cy="365.4" rx="1.95" ry="1.56"/><ellipse cx="131.2" cy="366.9" rx="1.97" ry="1.57"/><ellipse cx="134.2" cy="368.5" rx="1.98" ry="1.58"/><ellipse cx="137.3" cy="370.1" rx="1.99" ry="1.59"/><ellipse cx="140.4" cy="371.8" rx="2.01" ry="1.60"/><ellipse cx="143.7" cy="373.5" rx="2.02" ry="1.62"/><ellipse cx="147.0" cy="375.3" rx="2.03" ry="1.63"/><ellipse cx="150.3" cy="377.1" rx="2.05" ry="1.64"/><ellipse cx="153.8" cy="378.9" rx="2.06" ry="1.65"/><ellipse cx="157.4" cy="380.8" rx="2.08" ry="1.66"/><ellipse cx="161.0" cy="382.7" rx="2.10" ry="1.68"/><ellipse cx="164.8" cy="384.7" rx="2.11" ry="1.69"/><ellipse cx="168.6" cy="386.8" rx="2.13" ry="1.70"/><ellipse cx="172.6" cy="388.9" rx="2.15" ry="1.72"/><ellipse cx="176.7" cy="391.0" rx="2.17" ry="1.73"/><ellipse cx="180.8" cy="393.3" rx="2.19" ry="1.75"/><ellipse cx="185.1" cy="395.6" rx="2.21" ry="1.77"/><ellipse cx="189.6" cy="397.9" rx="2.23" ry="1.78"/><ellipse cx="194.1" cy="400.3" rx="2.25" ry="1.80"/><ellipse cx="198.8" cy="402.8" rx="2.27" ry="1.82"/><ellipse cx="203.6" cy="405.4" rx="2.30" ry="1.84"/><ellipse cx="208.6" cy="408.0" rx="2.32" ry="1.86"/><ellipse cx="213.7" cy="410.7" rx="2.34" ry="1.88"/><ellipse cx="219.0" cy="413.6" rx="2.37" ry="1.90"/><ellipse cx="224.5" cy="416.5" rx="2.40" ry="1.92"/><ellipse cx="129.3" cy="362.7" rx="1.93" ry="1.55"/><ellipse cx="132.2" cy="364.2" rx="1.95" ry="1.56"/><ellipse cx="135.2" cy="365.7" rx="1.96" ry="1.57"/><ellipse cx="138.2" cy="367.3" rx="1.97" ry="1.58"/><ellipse cx="141.3" cy="368.9" rx="1.98" ry="1.59"/><ellipse cx="144.4" cy="370.5" rx="2.00" ry="1.60"/><ellipse cx="147.7" cy="372.2" rx="2.01" ry="1.61"/><ellipse cx="151.0" cy="373.9" rx="2.02" ry="1.62"/><ellipse cx="154.4" cy="375.7" rx="2.04" ry="1.63"/><ellipse cx="157.9" cy="377.5" rx="2.05" ry="1.64"/><ellipse cx="161.5" cy="379.4" rx="2.07" ry="1.66"/><ellipse cx="165.1" cy="381.3" rx="2.08" ry="1.67"/><ellipse cx="168.9" cy="383.2" rx="2.10" ry="1.68"/><ellipse cx="172.8" cy="385.2" rx="2.12" ry="1.69"/><ellipse cx="176.7" cy="387.3" rx="2.14" ry="1.71"/><ellipse cx="180.8" cy="389.4" rx="2.15" ry="1.72"/><ellipse cx="185.0" cy="391.6" rx="2.17" ry="1.74"/><ellipse cx="189.3" cy="393.8" rx="2.19" ry="1.75"/><ellipse cx="193.8" cy="396.1" rx="2.21" ry="1.77"/><ellipse cx="198.3" cy="398.5" rx="2.23" ry="1.79"/><ellipse cx="203.0" cy="400.9" rx="2.26" ry="1.80"/><ellipse cx="207.9" cy="403.4" rx="2.28" ry="1.82"/><ellipse cx="212.9" cy="406.0" rx="2.30" ry="1.84"/><ellipse cx="218.0" cy="408.7" rx="2.33" ry="1.86"/><ellipse cx="223.3" cy="411.4" rx="2.35" ry="1.88"/><ellipse cx="228.8" cy="414.3" rx="2.38" ry="1.90"/><ellipse cx="133.1" cy="361.6" rx="1.92" ry="1.54"/><ellipse cx="136.0" cy="363.0" rx="1.94" ry="1.55"/><ellipse cx="139.0" cy="364.5" rx="1.95" ry="1.56"/><ellipse cx="142.1" cy="366.1" rx="1.96" ry="1.57"/><ellipse cx="145.2" cy="367.6" rx="1.97" ry="1.58"/><ellipse cx="148.3" cy="369.3" rx="1.99" ry="1.59"/><ellipse cx="151.6" cy="370.9" rx="2.00" ry="1.60"/><ellipse cx="154.9" cy="372.6" rx="2.01" ry="1.61"/><ellipse cx="158.4" cy="374.3" rx="2.03" ry="1.62"/><ellipse cx="161.9" cy="376.1" rx="2.04" ry="1.63"/><ellipse cx="165.5" cy="377.9" rx="2.06" ry="1.65"/><ellipse cx="169.2" cy="379.8" rx="2.07" ry="1.66"/><ellipse cx="172.9" cy="381.7" rx="2.09" ry="1.67"/><ellipse cx="176.8" cy="383.7" rx="2.11" ry="1.68"/><ellipse cx="180.8" cy="385.7" rx="2.12" ry="1.70"/><ellipse cx="184.9" cy="387.8" rx="2.14" ry="1.71"/><ellipse cx="189.1" cy="389.9" rx="2.16" ry="1.73"/><ellipse cx="193.5" cy="392.1" rx="2.18" ry="1.74"/><ellipse cx="197.9" cy="394.3" rx="2.20" ry="1.76"/><ellipse cx="202.5" cy="396.7" rx="2.22" ry="1.77"/><ellipse cx="207.2" cy="399.0" rx="2.24" ry="1.79"/><ellipse cx="212.0" cy="401.5" rx="2.26" ry="1.81"/><ellipse cx="217.0" cy="404.0" rx="2.28" ry="1.83"/><ellipse cx="222.2" cy="406.6" rx="2.31" ry="1.85"/><ellipse cx="227.5" cy="409.3" rx="2.33" ry="1.87"/><ellipse cx="233.0" cy="412.1" rx="2.36" ry="1.89"/><ellipse cx="136.9" cy="360.5" rx="1.92" ry="1.53"/><ellipse cx="139.8" cy="361.9" rx="1.93" ry="1.54"/><ellipse cx="142.8" cy="363.4" rx="1.94" ry="1.55"/><ellipse cx="145.9" cy="364.9" rx="1.95" ry="1.56"/><ellipse cx="149.0" cy="366.4" rx="1.96" ry="1.57"/><ellipse cx="152.2" cy="368.0" rx="1.98" ry="1.58"/><ellipse cx="155.5" cy="369.6" rx="1.99" ry="1.59"/><ellipse cx="158.8" cy="371.3" rx="2.00" ry="1.60"/><ellipse cx="162.3" cy="373.0" rx="2.02" ry="1.61"/><ellipse cx="165.8" cy="374.7" rx="2.03" ry="1.63"/><ellipse cx="169.4" cy="376.5" rx="2.05" ry="1.64"/><ellipse cx="173.1" cy="378.4" rx="2.06" ry="1.65"/><ellipse cx="176.9" cy="380.2" rx="2.08" ry="1.66"/><ellipse cx="180.8" cy="382.2" rx="2.09" ry="1.67"/><ellipse cx="184.8" cy="384.1" rx="2.11" ry="1.69"/><ellipse cx="188.9" cy="386.2" rx="2.13" ry="1.70"/><ellipse cx="193.2" cy="388.3" rx="2.15" ry="1.72"/><ellipse cx="197.5" cy="390.4" rx="2.16" ry="1.73"/><ellipse cx="202.0" cy="392.6" rx="2.18" ry="1.75"/><ellipse cx="206.5" cy="394.9" rx="2.20" ry="1.76"/><ellipse cx="211.3" cy="397.2" rx="2.22" ry="1.78"/><ellipse cx="216.1" cy="399.6" rx="2.25" ry="1.80"/><ellipse cx="221.1" cy="402.1" rx="2.27" ry="1.81"/><ellipse cx="226.3" cy="404.6" rx="2.29" ry="1.83"/><ellipse cx="231.6" cy="407.3" rx="2.31" ry="1.85"/><ellipse cx="237.1" cy="410.0" rx="2.34" ry="1.87"/><ellipse cx="140.6" cy="359.4" rx="1.91" ry="1.53"/><ellipse cx="143.5" cy="360.8" rx="1.92" ry="1.54"/><ellipse cx="146.5" cy="362.2" rx="1.93" ry="1.54"/><ellipse cx="149.6" cy="363.7" rx="1.94" ry="1.55"/><ellipse cx="152.8" cy="365.2" rx="1.96" ry="1.56"/><ellipse cx="156.0" cy="366.8" rx="1.97" ry="1.57"/><ellipse cx="159.3" cy="368.4" rx="1.98" ry="1.58"/><ellipse cx="162.7" cy="370.0" rx="1.99" ry="1.59"/><ellipse cx="166.1" cy="371.7" rx="2.01" ry="1.61"/><ellipse cx="169.6" cy="373.4" rx="2.02" ry="1.62"/><ellipse cx="173.3" cy="375.2" rx="2.04" ry="1.63"/><ellipse cx="177.0" cy="376.9" rx="2.05" ry="1.64"/><ellipse cx="180.8" cy="378.8" rx="2.07" ry="1.65"/><ellipse cx="184.7" cy="380.7" rx="2.08" ry="1.67"/><ellipse cx="188.7" cy="382.6" rx="2.10" ry="1.68"/><ellipse cx="192.9" cy="384.6" rx="2.12" ry="1.69"/><ellipse cx="197.1" cy="386.7" rx="2.13" ry="1.71"/><ellipse cx="201.4" cy="388.8" rx="2.15" ry="1.72"/><ellipse cx="205.9" cy="390.9" rx="2.17" ry="1.74"/><ellipse cx="210.5" cy="393.2" rx="2.19" ry="1.75"/><ellipse cx="215.2" cy="395.4" rx="2.21" ry="1.77"/><ellipse cx="220.1" cy="397.8" rx="2.23" ry="1.78"/><ellipse cx="225.1" cy="400.2" rx="2.25" ry="1.80"/><ellipse cx="230.3" cy="402.7" rx="2.27" ry="1.82"/><ellipse cx="235.6" cy="405.3" rx="2.30" ry="1.84"/><ellipse cx="241.0" cy="407.9" rx="2.32" ry="1.86"/><ellipse cx="144.2" cy="358.3" rx="1.90" ry="1.52"/><ellipse cx="147.2" cy="359.7" rx="1.91" ry="1.53"/><ellipse cx="150.2" cy="361.1" rx="1.92" ry="1.54"/><ellipse cx="153.3" cy="362.6" rx="1.93" ry="1.55"/><ellipse cx="156.5" cy="364.1" rx="1.95" ry="1.56"/><ellipse cx="159.7" cy="365.6" rx="1.96" ry="1.57"/><ellipse cx="163.0" cy="367.2" rx="1.97" ry="1.58"/><ellipse cx="166.4" cy="368.8" rx="1.98" ry="1.59"/><ellipse cx="169.9" cy="370.4" rx="2.00" ry="1.60"/><ellipse cx="173.4" cy="372.1" rx="2.01" ry="1.61"/><ellipse cx="177.1" cy="373.8" rx="2.02" ry="1.62"/><ellipse cx="180.8" cy="375.6" rx="2.04" ry="1.63"/><ellipse cx="184.6" cy="377.4" rx="2.05" ry="1.64"/><ellipse cx="188.6" cy="379.2" rx="2.07" ry="1.66"/><ellipse cx="192.6" cy="381.1" rx="2.09" ry="1.67"/><ellipse cx="196.7" cy="383.1" rx="2.10" ry="1.68"/><ellipse cx="201.0" cy="385.1" rx="2.12" ry="1.70"/><ellipse cx="205.3" cy="387.2" rx="2.14" ry="1.71"/><ellipse cx="209.8" cy="389.3" rx="2.16" ry="1.72"/><ellipse cx="214.4" cy="391.5" rx="2.17" ry="1.74"/><ellipse cx="219.1" cy="393.7" rx="2.19" ry="1.76"/><ellipse cx="224.0" cy="396.0" rx="2.21" ry="1.77"/><ellipse cx="229.0" cy="398.4" rx="2.24" ry="1.79"/><ellipse cx="234.2" cy="400.8" rx="2.26" ry="1.81"/><ellipse cx="239.5" cy="403.3" rx="2.28" ry="1.82"/><ellipse cx="245.0" cy="405.9" rx="2.30" ry="1.84"/><ellipse cx="147.8" cy="357.2" rx="1.89" ry="1.51"/><ellipse cx="150.8" cy="358.6" rx="1.90" ry="1.52"/><ellipse cx="153.8" cy="360.0" rx="1.91" ry="1.53"/><ellipse cx="156.9" cy="361.4" rx="1.93" ry="1.54"/><ellipse cx="160.1" cy="362.9" rx="1.94" ry="1.55"/><ellipse cx="163.4" cy="364.4" rx="1.95" ry="1.56"/><ellipse cx="166.7" cy="365.9" rx="1.96" ry="1.57"/><ellipse cx="170.1" cy="367.5" rx="1.97" ry="1.58"/><ellipse cx="173.6" cy="369.1" rx="1.99" ry="1.59"/><ellipse cx="177.1" cy="370.8" rx="2.00" ry="1.60"/><ellipse cx="180.8" cy="372.5" rx="2.01" ry="1.61"/><ellipse cx="184.5" cy="374.2" rx="2.03" ry="1.62"/><ellipse cx="188.4" cy="376.0" rx="2.04" ry="1.63"/><ellipse cx="192.3" cy="377.8" rx="2.06" ry="1.65"/><ellipse cx="196.4" cy="379.7" rx="2.07" ry="1.66"/><ellipse cx="200.5" cy="381.6" rx="2.09" ry="1.67"/><ellipse cx="204.8" cy="383.6" rx="2.11" ry="1.69"/><ellipse cx="209.1" cy="385.6" rx="2.12" ry="1.70"/><ellipse cx="213.6" cy="387.7" rx="2.14" ry="1.71"/><ellipse cx="218.2" cy="389.8" rx="2.16" ry="1.73"/><ellipse cx="223.0" cy="392.0" rx="2.18" ry="1.74"/><ellipse cx="227.8" cy="394.2" rx="2.20" ry="1.76"/><ellipse cx="232.8" cy="396.5" rx="2.22" ry="1.78"/><ellipse cx="238.0" cy="398.9" rx="2.24" ry="1.79"/><ellipse cx="243.3" cy="401.4" rx="2.26" ry="1.81"/><ellipse cx="248.8" cy="403.9" rx="2.29" ry="1.83"/></g>
<g stroke="#d8cc98" stroke-width="0.8"><line x1="36.9" y1="390.0" x2="36.9" y2="384.4"/><line x1="39.1" y1="392.1" x2="39.1" y2="386.5"/><line x1="41.3" y1="394.4" x2="41.3" y2="388.7"/><line x1="43.7" y1="396.7" x2="43.7" y2="390.9"/><line x1="46.0" y1="399.0" x2="46.0" y2="393.2"/><line x1="48.5" y1="401.5" x2="48.5" y2="395.6"/><line x1="51.0" y1="404.0" x2="51.0" y2="398.1"/><line x1="53.6" y1="406.5" x2="53.6" y2="400.6"/><line x1="56.3" y1="409.2" x2="56.3" y2="403.2"/><line x1="59.0" y1="411.9" x2="59.0" y2="405.9"/><line x1="61.9" y1="414.8" x2="61.9" y2="408.6"/><line x1="64.8" y1="417.7" x2="64.8" y2="411.5"/><line x1="67.9" y1="420.7" x2="67.9" y2="414.4"/><line x1="71.0" y1="423.8" x2="71.0" y2="417.4"/><line x1="74.2" y1="427.0" x2="74.2" y2="420.6"/><line x1="77.6" y1="430.3" x2="77.6" y2="423.8"/><line x1="81.0" y1="433.8" x2="81.0" y2="427.2"/><line x1="84.6" y1="437.3" x2="84.6" y2="430.6"/><line x1="88.3" y1="441.0" x2="88.3" y2="434.2"/><line x1="92.2" y1="444.8" x2="92.2" y2="437.9"/><line x1="96.2" y1="448.8" x2="96.2" y2="441.8"/><line x1="100.3" y1="452.9" x2="100.3" y2="445.8"/><line x1="104.7" y1="457.2" x2="104.7" y2="450.0"/><line x1="109.1" y1="461.7" x2="109.1" y2="454.3"/><line x1="113.8" y1="466.3" x2="113.8" y2="458.8"/><line x1="118.6" y1="471.1" x2="118.6" y2="463.5"/><line x1="42.4" y1="388.4" x2="42.4" y2="382.8"/><line x1="44.6" y1="390.5" x2="44.6" y2="384.9"/><line x1="46.9" y1="392.7" x2="46.9" y2="387.0"/><line x1="49.3" y1="394.9" x2="49.3" y2="389.2"/><line x1="51.7" y1="397.2" x2="51.7" y2="391.5"/><line x1="54.2" y1="399.6" x2="54.2" y2="393.8"/><line x1="56.8" y1="402.1" x2="56.8" y2="396.2"/><line x1="59.5" y1="404.6" x2="59.5" y2="398.7"/><line x1="62.2" y1="407.2" x2="62.2" y2="401.2"/><line x1="65.0" y1="409.8" x2="65.0" y2="403.8"/><line x1="67.9" y1="412.6" x2="67.9" y2="406.5"/><line x1="70.9" y1="415.5" x2="70.9" y2="409.3"/><line x1="74.0" y1="418.4" x2="74.0" y2="412.2"/><line x1="77.2" y1="421.4" x2="77.2" y2="415.1"/><line x1="80.5" y1="424.6" x2="80.5" y2="418.2"/><line x1="83.9" y1="427.8" x2="83.9" y2="421.3"/><line x1="87.5" y1="431.2" x2="87.5" y2="424.6"/><line x1="91.1" y1="434.6" x2="91.1" y2="428.0"/><line x1="94.9" y1="438.2" x2="94.9" y2="431.5"/><line x1="98.8" y1="441.9" x2="98.8" y2="435.1"/><line x1="102.9" y1="445.8" x2="102.9" y2="438.9"/><line x1="107.1" y1="449.8" x2="107.1" y2="442.8"/><line x1="111.5" y1="454.0" x2="111.5" y2="446.8"/><line x1="116.0" y1="458.3" x2="116.0" y2="451.0"/><line x1="120.8" y1="462.8" x2="120.8" y2="455.4"/><line x1="125.7" y1="467.5" x2="125.7" y2="460.0"/><line x1="47.8" y1="386.8" x2="47.8" y2="381.3"/><line x1="50.1" y1="388.9" x2="50.1" y2="383.3"/><line x1="52.4" y1="391.0" x2="52.4" y2="385.4"/><line x1="54.8" y1="393.2" x2="54.8" y2="387.5"/><line x1="57.3" y1="395.5" x2="57.3" y2="389.8"/><line x1="59.9" y1="397.8" x2="59.9" y2="392.0"/><line x1="62.5" y1="400.2" x2="62.5" y2="394.4"/><line x1="65.2" y1="402.7" x2="65.2" y2="396.8"/><line x1="68.0" y1="405.2" x2="68.0" y2="399.3"/><line x1="70.9" y1="407.8" x2="70.9" y2="401.8"/><line x1="73.9" y1="410.5" x2="73.9" y2="404.4"/><line x1="76.9" y1="413.3" x2="76.9" y2="407.2"/><line x1="80.1" y1="416.2" x2="80.1" y2="410.0"/><line x1="83.3" y1="419.1" x2="83.3" y2="412.9"/><line x1="86.7" y1="422.2" x2="86.7" y2="415.8"/><line x1="90.2" y1="425.3" x2="90.2" y2="418.9"/><line x1="93.8" y1="428.6" x2="93.8" y2="422.1"/><line x1="97.5" y1="432.0" x2="97.5" y2="425.4"/><line x1="101.3" y1="435.5" x2="101.3" y2="428.8"/><line x1="105.3" y1="439.1" x2="105.3" y2="432.4"/><line x1="109.4" y1="442.9" x2="109.4" y2="436.0"/><line x1="113.7" y1="446.8" x2="113.7" y2="439.8"/><line x1="118.2" y1="450.8" x2="118.2" y2="443.8"/><line x1="122.8" y1="455.0" x2="122.8" y2="447.9"/><line x1="127.6" y1="459.4" x2="127.6" y2="452.1"/><line x1="132.6" y1="463.9" x2="132.6" y2="456.5"/><line x1="53.0" y1="385.2" x2="53.0" y2="379.7"/><line x1="55.4" y1="387.3" x2="55.4" y2="381.7"/><line x1="57.8" y1="389.4" x2="57.8" y2="383.8"/><line x1="60.3" y1="391.5" x2="60.3" y2="385.9"/><line x1="62.8" y1="393.7" x2="62.8" y2="388.1"/><line x1="65.4" y1="396.0" x2="65.4" y2="390.3"/><line x1="68.1" y1="398.4" x2="68.1" y2="392.6"/><line x1="70.8" y1="400.8" x2="70.8" y2="394.9"/><line x1="73.7" y1="403.3" x2="73.7" y2="397.4"/><line x1="76.6" y1="405.8" x2="76.6" y2="399.9"/><line x1="79.6" y1="408.4" x2="79.6" y2="402.4"/><line x1="82.8" y1="411.2" x2="82.8" y2="405.1"/><line x1="86.0" y1="414.0" x2="86.0" y2="407.8"/><line x1="89.3" y1="416.9" x2="89.3" y2="410.7"/><line x1="92.7" y1="419.9" x2="92.7" y2="413.6"/><line x1="96.2" y1="422.9" x2="96.2" y2="416.6"/><line x1="99.9" y1="426.1" x2="99.9" y2="419.7"/><line x1="103.6" y1="429.4" x2="103.6" y2="422.9"/><line x1="107.6" y1="432.8" x2="107.6" y2="426.2"/><line x1="111.6" y1="436.4" x2="111.6" y2="429.7"/><line x1="115.8" y1="440.0" x2="115.8" y2="433.2"/><line x1="120.1" y1="443.8" x2="120.1" y2="436.9"/><line x1="124.6" y1="447.8" x2="124.6" y2="440.8"/><line x1="129.3" y1="451.8" x2="129.3" y2="444.8"/><line x1="134.2" y1="456.1" x2="134.2" y2="448.9"/><line x1="139.2" y1="460.5" x2="139.2" y2="453.2"/><line x1="58.2" y1="383.7" x2="58.2" y2="378.2"/><line x1="60.6" y1="385.7" x2="60.6" y2="380.2"/><line x1="63.1" y1="387.7" x2="63.1" y2="382.2"/><line x1="65.6" y1="389.9" x2="65.6" y2="384.3"/><line x1="68.2" y1="392.0" x2="68.2" y2="386.4"/><line x1="70.8" y1="394.3" x2="70.8" y2="388.6"/><line x1="73.5" y1="396.6" x2="73.5" y2="390.8"/><line x1="76.4" y1="398.9" x2="76.4" y2="393.1"/><line x1="79.2" y1="401.4" x2="79.2" y2="395.5"/><line x1="82.2" y1="403.9" x2="82.2" y2="398.0"/><line x1="85.3" y1="406.4" x2="85.3" y2="400.5"/><line x1="88.5" y1="409.1" x2="88.5" y2="403.1"/><line x1="91.7" y1="411.8" x2="91.7" y2="405.7"/><line x1="95.1" y1="414.7" x2="95.1" y2="408.5"/><line x1="98.6" y1="417.6" x2="98.6" y2="411.3"/><line x1="102.1" y1="420.6" x2="102.1" y2="414.3"/><line x1="105.9" y1="423.7" x2="105.9" y2="417.3"/><line x1="109.7" y1="426.9" x2="109.7" y2="420.5"/><line x1="113.6" y1="430.2" x2="113.6" y2="423.7"/><line x1="117.7" y1="433.7" x2="117.7" y2="427.1"/><line x1="122.0" y1="437.3" x2="122.0" y2="430.5"/><line x1="126.4" y1="440.9" x2="126.4" y2="434.1"/><line x1="130.9" y1="444.8" x2="130.9" y2="437.9"/><line x1="135.7" y1="448.7" x2="135.7" y2="441.7"/><line x1="140.6" y1="452.9" x2="140.6" y2="445.8"/><line x1="145.7" y1="457.2" x2="145.7" y2="449.9"/><line x1="63.3" y1="382.2" x2="63.3" y2="376.8"/><line x1="65.7" y1="384.2" x2="65.7" y2="378.7"/><line x1="68.2" y1="386.2" x2="68.2" y2="380.7"/><line x1="70.8" y1="388.2" x2="70.8" y2="382.7"/><line x1="73.4" y1="390.4" x2="73.4" y2="384.8"/><line x1="76.1" y1="392.6" x2="76.1" y2="386.9"/><line x1="78.9" y1="394.8" x2="78.9" y2="389.1"/><line x1="81.7" y1="397.1" x2="81.7" y2="391.4"/><line x1="84.7" y1="399.5" x2="84.7" y2="393.7"/><line x1="87.7" y1="401.9" x2="87.7" y2="396.1"/><line x1="90.8" y1="404.5" x2="90.8" y2="398.5"/><line x1="94.0" y1="407.1" x2="94.0" y2="401.1"/><line x1="97.4" y1="409.7" x2="97.4" y2="403.7"/><line x1="100.8" y1="412.5" x2="100.8" y2="406.4"/><line x1="104.3" y1="415.4" x2="104.3" y2="409.2"/><line x1="107.9" y1="418.3" x2="107.9" y2="412.0"/><line x1="111.7" y1="421.3" x2="111.7" y2="415.0"/><line x1="115.6" y1="424.5" x2="115.6" y2="418.1"/><line x1="119.6" y1="427.7" x2="119.6" y2="421.2"/><line x1="123.7" y1="431.1" x2="123.7" y2="424.5"/><line x1="128.0" y1="434.5" x2="128.0" y2="427.9"/><line x1="132.5" y1="438.1" x2="132.5" y2="431.4"/><line x1="137.1" y1="441.9" x2="137.1" y2="435.0"/><line x1="141.9" y1="445.7" x2="141.9" y2="438.8"/><line x1="146.8" y1="449.7" x2="146.8" y2="442.7"/><line x1="152.0" y1="453.9" x2="152.0" y2="446.8"/><line x1="68.3" y1="380.7" x2="68.3" y2="375.3"/><line x1="70.7" y1="382.6" x2="70.7" y2="377.2"/><line x1="73.3" y1="384.6" x2="73.3" y2="379.1"/><line x1="75.9" y1="386.7" x2="75.9" y2="381.1"/><line x1="78.6" y1="388.7" x2="78.6" y2="383.2"/><line x1="81.3" y1="390.9" x2="81.3" y2="385.3"/><line x1="84.1" y1="393.1" x2="84.1" y2="387.4"/><line x1="87.0" y1="395.3" x2="87.0" y2="389.6"/><line x1="90.0" y1="397.7" x2="90.0" y2="391.9"/><line x1="93.1" y1="400.1" x2="93.1" y2="394.3"/><line x1="96.3" y1="402.5" x2="96.3" y2="396.7"/><line x1="99.5" y1="405.1" x2="99.5" y2="399.1"/><line x1="102.9" y1="407.7" x2="102.9" y2="401.7"/><line x1="106.3" y1="410.4" x2="106.3" y2="404.3"/><line x1="109.9" y1="413.2" x2="109.9" y2="407.1"/><line x1="113.6" y1="416.1" x2="113.6" y2="409.9"/><line x1="117.4" y1="419.0" x2="117.4" y2="412.8"/><line x1="121.3" y1="422.1" x2="121.3" y2="415.7"/><line x1="125.4" y1="425.2" x2="125.4" y2="418.8"/><line x1="129.6" y1="428.5" x2="129.6" y2="422.0"/><line x1="133.9" y1="431.9" x2="133.9" y2="425.3"/><line x1="138.4" y1="435.4" x2="138.4" y2="428.7"/><line x1="143.0" y1="439.0" x2="143.0" y2="432.3"/><line x1="147.9" y1="442.8" x2="147.9" y2="435.9"/><line x1="152.9" y1="446.7" x2="152.9" y2="439.7"/><line x1="158.1" y1="450.8" x2="158.1" y2="443.7"/><line x1="73.2" y1="379.3" x2="73.2" y2="373.9"/><line x1="75.7" y1="381.2" x2="75.7" y2="375.8"/><line x1="78.2" y1="383.1" x2="78.2" y2="377.7"/><line x1="80.9" y1="385.1" x2="80.9" y2="379.6"/><line x1="83.6" y1="387.1" x2="83.6" y2="381.6"/><line x1="86.4" y1="389.2" x2="86.4" y2="383.7"/><line x1="89.3" y1="391.4" x2="89.3" y2="385.8"/><line x1="92.2" y1="393.6" x2="92.2" y2="387.9"/><line x1="95.2" y1="395.9" x2="95.2" y2="390.2"/><line x1="98.3" y1="398.2" x2="98.3" y2="392.5"/><line x1="101.6" y1="400.7" x2="101.6" y2="394.8"/><line x1="104.9" y1="403.1" x2="104.9" y2="397.2"/><line x1="108.3" y1="405.7" x2="108.3" y2="399.7"/><line x1="111.8" y1="408.3" x2="111.8" y2="402.3"/><line x1="115.4" y1="411.1" x2="115.4" y2="405.0"/><line x1="119.1" y1="413.9" x2="119.1" y2="407.7"/><line x1="122.9" y1="416.8" x2="122.9" y2="410.5"/><line x1="126.9" y1="419.8" x2="126.9" y2="413.5"/><line x1="131.0" y1="422.8" x2="131.0" y2="416.5"/><line x1="135.3" y1="426.0" x2="135.3" y2="419.6"/><line x1="139.6" y1="429.3" x2="139.6" y2="422.8"/><line x1="144.2" y1="432.8" x2="144.2" y2="426.1"/><line x1="148.9" y1="436.3" x2="148.9" y2="429.6"/><line x1="153.7" y1="440.0" x2="153.7" y2="433.2"/><line x1="158.8" y1="443.7" x2="158.8" y2="436.9"/><line x1="164.0" y1="447.7" x2="164.0" y2="440.7"/><line x1="78.0" y1="377.9" x2="78.0" y2="372.5"/><line x1="80.5" y1="379.7" x2="80.5" y2="374.3"/><line x1="83.1" y1="381.6" x2="83.1" y2="376.2"/><line x1="85.8" y1="383.6" x2="85.8" y2="378.1"/><line x1="88.6" y1="385.6" x2="88.6" y2="380.1"/><line x1="91.4" y1="387.6" x2="91.4" y2="382.1"/><line x1="94.3" y1="389.7" x2="94.3" y2="384.2"/><line x1="97.3" y1="391.9" x2="97.3" y2="386.3"/><line x1="100.3" y1="394.1" x2="100.3" y2="388.5"/><line x1="103.5" y1="396.4" x2="103.5" y2="390.7"/><line x1="106.7" y1="398.8" x2="106.7" y2="393.0"/><line x1="110.1" y1="401.2" x2="110.1" y2="395.4"/><line x1="113.5" y1="403.7" x2="113.5" y2="397.8"/><line x1="117.1" y1="406.3" x2="117.1" y2="400.4"/><line x1="120.7" y1="409.0" x2="120.7" y2="403.0"/><line x1="124.5" y1="411.7" x2="124.5" y2="405.6"/><line x1="128.4" y1="414.6" x2="128.4" y2="408.4"/><line x1="132.4" y1="417.5" x2="132.4" y2="411.2"/><line x1="136.5" y1="420.5" x2="136.5" y2="414.2"/><line x1="140.8" y1="423.6" x2="140.8" y2="417.2"/><line x1="145.2" y1="426.8" x2="145.2" y2="420.4"/><line x1="149.8" y1="430.2" x2="149.8" y2="423.6"/><line x1="154.5" y1="433.6" x2="154.5" y2="427.0"/><line x1="159.4" y1="437.2" x2="159.4" y2="430.4"/><line x1="164.5" y1="440.9" x2="164.5" y2="434.0"/><line x1="169.8" y1="444.7" x2="169.8" y2="437.8"/><line x1="82.7" y1="376.5" x2="82.7" y2="371.2"/><line x1="85.2" y1="378.3" x2="85.2" y2="372.9"/><line x1="87.9" y1="380.2" x2="87.9" y2="374.8"/><line x1="90.6" y1="382.1" x2="90.6" y2="376.6"/><line x1="93.4" y1="384.0" x2="93.4" y2="378.6"/><line x1="96.3" y1="386.1" x2="96.3" y2="380.5"/><line x1="99.2" y1="388.1" x2="99.2" y2="382.6"/><line x1="102.2" y1="390.3" x2="102.2" y2="384.6"/><line x1="105.3" y1="392.4" x2="105.3" y2="386.8"/><line x1="108.5" y1="394.7" x2="108.5" y2="389.0"/><line x1="111.8" y1="397.0" x2="111.8" y2="391.2"/><line x1="115.2" y1="399.4" x2="115.2" y2="393.6"/><line x1="118.7" y1="401.8" x2="118.7" y2="396.0"/><line x1="122.3" y1="404.4" x2="122.3" y2="398.4"/><line x1="126.0" y1="407.0" x2="126.0" y2="401.0"/><line x1="129.8" y1="409.6" x2="129.8" y2="403.6"/><line x1="133.7" y1="412.4" x2="133.7" y2="406.3"/><line x1="137.7" y1="415.3" x2="137.7" y2="409.1"/><line x1="141.9" y1="418.2" x2="141.9" y2="411.9"/><line x1="146.2" y1="421.2" x2="146.2" y2="414.9"/><line x1="150.7" y1="424.4" x2="150.7" y2="418.0"/><line x1="155.3" y1="427.6" x2="155.3" y2="421.1"/><line x1="160.1" y1="431.0" x2="160.1" y2="424.4"/><line x1="165.0" y1="434.5" x2="165.0" y2="427.8"/><line x1="170.1" y1="438.1" x2="170.1" y2="431.3"/><line x1="175.4" y1="441.8" x2="175.4" y2="434.9"/><line x1="87.3" y1="375.1" x2="87.3" y2="369.8"/><line x1="89.9" y1="376.9" x2="89.9" y2="371.6"/><line x1="92.6" y1="378.7" x2="92.6" y2="373.4"/><line x1="95.3" y1="380.6" x2="95.3" y2="375.2"/><line x1="98.2" y1="382.5" x2="98.2" y2="377.1"/><line x1="101.1" y1="384.5" x2="101.1" y2="379.0"/><line x1="104.1" y1="386.5" x2="104.1" y2="381.0"/><line x1="107.1" y1="388.6" x2="107.1" y2="383.1"/><line x1="110.3" y1="390.8" x2="110.3" y2="385.1"/><line x1="113.5" y1="393.0" x2="113.5" y2="387.3"/><line x1="116.8" y1="395.2" x2="116.8" y2="389.5"/><line x1="120.2" y1="397.6" x2="120.2" y2="391.8"/><line x1="123.7" y1="400.0" x2="123.7" y2="394.1"/><line x1="127.4" y1="402.4" x2="127.4" y2="396.5"/><line x1="131.1" y1="405.0" x2="131.1" y2="399.0"/><line x1="134.9" y1="407.6" x2="134.9" y2="401.6"/><line x1="138.9" y1="410.3" x2="138.9" y2="404.2"/><line x1="143.0" y1="413.1" x2="143.0" y2="406.9"/><line x1="147.2" y1="416.0" x2="147.2" y2="409.8"/><line x1="151.5" y1="418.9" x2="151.5" y2="412.6"/><line x1="156.0" y1="422.0" x2="156.0" y2="415.6"/><line x1="160.7" y1="425.2" x2="160.7" y2="418.7"/><line x1="165.5" y1="428.4" x2="165.5" y2="421.9"/><line x1="170.4" y1="431.8" x2="170.4" y2="425.2"/><line x1="175.6" y1="435.3" x2="175.6" y2="428.6"/><line x1="180.9" y1="439.0" x2="180.9" y2="432.2"/><line x1="91.8" y1="373.8" x2="91.8" y2="368.5"/><line x1="94.5" y1="375.5" x2="94.5" y2="370.2"/><line x1="97.2" y1="377.3" x2="97.2" y2="372.0"/><line x1="100.0" y1="379.2" x2="100.0" y2="373.8"/><line x1="102.8" y1="381.0" x2="102.8" y2="375.6"/><line x1="105.8" y1="383.0" x2="105.8" y2="377.5"/><line x1="108.8" y1="385.0" x2="108.8" y2="379.5"/><line x1="111.9" y1="387.0" x2="111.9" y2="381.5"/><line x1="115.1" y1="389.1" x2="115.1" y2="383.5"/><line x1="118.3" y1="391.3" x2="118.3" y2="385.7"/><line x1="121.7" y1="393.5" x2="121.7" y2="387.8"/><line x1="125.1" y1="395.8" x2="125.1" y2="390.1"/><line x1="128.7" y1="398.1" x2="128.7" y2="392.3"/><line x1="132.3" y1="400.5" x2="132.3" y2="394.7"/><line x1="136.1" y1="403.0" x2="136.1" y2="397.1"/><line x1="140.0" y1="405.6" x2="140.0" y2="399.6"/><line x1="144.0" y1="408.2" x2="144.0" y2="402.2"/><line x1="148.1" y1="411.0" x2="148.1" y2="404.9"/><line x1="152.3" y1="413.8" x2="152.3" y2="407.6"/><line x1="156.7" y1="416.7" x2="156.7" y2="410.4"/><line x1="161.2" y1="419.7" x2="161.2" y2="413.4"/><line x1="165.9" y1="422.7" x2="165.9" y2="416.4"/><line x1="170.7" y1="425.9" x2="170.7" y2="419.5"/><line x1="175.7" y1="429.2" x2="175.7" y2="422.7"/><line x1="180.9" y1="432.7" x2="180.9" y2="426.0"/><line x1="186.3" y1="436.2" x2="186.3" y2="429.5"/><line x1="96.3" y1="372.4" x2="96.3" y2="367.2"/><line x1="99.0" y1="374.2" x2="99.0" y2="368.9"/><line x1="101.7" y1="375.9" x2="101.7" y2="370.6"/><line x1="104.5" y1="377.7" x2="104.5" y2="372.4"/><line x1="107.4" y1="379.6" x2="107.4" y2="374.2"/><line x1="110.4" y1="381.5" x2="110.4" y2="376.1"/><line x1="113.4" y1="383.4" x2="113.4" y2="378.0"/><line x1="116.6" y1="385.5" x2="116.6" y2="380.0"/><line x1="119.8" y1="387.5" x2="119.8" y2="382.0"/><line x1="123.1" y1="389.6" x2="123.1" y2="384.0"/><line x1="126.5" y1="391.8" x2="126.5" y2="386.2"/><line x1="129.9" y1="394.0" x2="129.9" y2="388.3"/><line x1="133.5" y1="396.3" x2="133.5" y2="390.6"/><line x1="137.2" y1="398.7" x2="137.2" y2="392.9"/><line x1="141.0" y1="401.1" x2="141.0" y2="395.3"/><line x1="144.9" y1="403.6" x2="144.9" y2="397.7"/><line x1="148.9" y1="406.2" x2="148.9" y2="400.2"/><line x1="153.1" y1="408.9" x2="153.1" y2="402.8"/><line x1="157.3" y1="411.6" x2="157.3" y2="405.5"/><line x1="161.8" y1="414.5" x2="161.8" y2="408.3"/><line x1="166.3" y1="417.4" x2="166.3" y2="411.1"/><line x1="171.0" y1="420.4" x2="171.0" y2="414.1"/><line x1="175.9" y1="423.5" x2="175.9" y2="417.1"/><line x1="180.9" y1="426.7" x2="180.9" y2="420.3"/><line x1="186.1" y1="430.1" x2="186.1" y2="423.5"/><line x1="191.5" y1="433.5" x2="191.5" y2="426.9"/><line x1="100.7" y1="371.1" x2="100.7" y2="366.0"/><line x1="103.4" y1="372.8" x2="103.4" y2="367.6"/><line x1="106.2" y1="374.6" x2="106.2" y2="369.3"/><line x1="109.0" y1="376.3" x2="109.0" y2="371.0"/><line x1="111.9" y1="378.2" x2="111.9" y2="372.8"/><line x1="114.9" y1="380.0" x2="114.9" y2="374.7"/><line x1="118.0" y1="381.9" x2="118.0" y2="376.5"/><line x1="121.2" y1="383.9" x2="121.2" y2="378.4"/><line x1="124.4" y1="385.9" x2="124.4" y2="380.4"/><line x1="127.7" y1="388.0" x2="127.7" y2="382.4"/><line x1="131.1" y1="390.1" x2="131.1" y2="384.5"/><line x1="134.6" y1="392.3" x2="134.6" y2="386.7"/><line x1="138.3" y1="394.6" x2="138.3" y2="388.9"/><line x1="142.0" y1="396.9" x2="142.0" y2="391.1"/><line x1="145.8" y1="399.3" x2="145.8" y2="393.5"/><line x1="149.7" y1="401.7" x2="149.7" y2="395.9"/><line x1="153.8" y1="404.2" x2="153.8" y2="398.3"/><line x1="158.0" y1="406.9" x2="158.0" y2="400.9"/><line x1="162.3" y1="409.5" x2="162.3" y2="403.5"/><line x1="166.7" y1="412.3" x2="166.7" y2="406.2"/><line x1="171.3" y1="415.2" x2="171.3" y2="409.0"/><line x1="176.0" y1="418.1" x2="176.0" y2="411.8"/><line x1="180.9" y1="421.1" x2="180.9" y2="414.8"/><line x1="185.9" y1="424.3" x2="185.9" y2="417.9"/><line x1="191.1" y1="427.5" x2="191.1" y2="421.0"/><line x1="196.5" y1="430.9" x2="196.5" y2="424.3"/><line x1="105.0" y1="369.9" x2="105.0" y2="364.7"/><line x1="107.7" y1="371.5" x2="107.7" y2="366.3"/><line x1="110.5" y1="373.2" x2="110.5" y2="368.0"/><line x1="113.4" y1="375.0" x2="113.4" y2="369.7"/><line x1="116.4" y1="376.8" x2="116.4" y2="371.5"/><line x1="119.4" y1="378.6" x2="119.4" y2="373.2"/><line x1="122.5" y1="380.5" x2="122.5" y2="375.1"/><line x1="125.7" y1="382.4" x2="125.7" y2="377.0"/><line x1="128.9" y1="384.4" x2="128.9" y2="378.9"/><line x1="132.3" y1="386.4" x2="132.3" y2="380.9"/><line x1="135.7" y1="388.5" x2="135.7" y2="382.9"/><line x1="139.3" y1="390.6" x2="139.3" y2="385.0"/><line x1="142.9" y1="392.9" x2="142.9" y2="387.2"/><line x1="146.6" y1="395.1" x2="146.6" y2="389.4"/><line x1="150.5" y1="397.5" x2="150.5" y2="391.7"/><line x1="154.5" y1="399.8" x2="154.5" y2="394.0"/><line x1="158.5" y1="402.3" x2="158.5" y2="396.4"/><line x1="162.7" y1="404.9" x2="162.7" y2="398.9"/><line x1="167.1" y1="407.5" x2="167.1" y2="401.5"/><line x1="171.5" y1="410.2" x2="171.5" y2="404.1"/><line x1="176.1" y1="413.0" x2="176.1" y2="406.8"/><line x1="180.9" y1="415.9" x2="180.9" y2="409.6"/><line x1="185.8" y1="418.8" x2="185.8" y2="412.5"/><line x1="190.8" y1="421.9" x2="190.8" y2="415.5"/><line x1="196.1" y1="425.1" x2="196.1" y2="418.6"/><line x1="201.5" y1="428.3" x2="201.5" y2="421.8"/><line x1="109.2" y1="368.6" x2="109.2" y2="363.5"/><line x1="112.0" y1="370.3" x2="112.0" y2="365.1"/><line x1="114.8" y1="371.9" x2="114.8" y2="366.7"/><line x1="117.7" y1="373.6" x2="117.7" y2="368.4"/><line x1="120.7" y1="375.4" x2="120.7" y2="370.1"/><line x1="123.7" y1="377.2" x2="123.7" y2="371.9"/><line x1="126.9" y1="379.0" x2="126.9" y2="373.7"/><line x1="130.1" y1="380.9" x2="130.1" y2="375.5"/><line x1="133.4" y1="382.9" x2="133.4" y2="377.4"/><line x1="136.8" y1="384.9" x2="136.8" y2="379.4"/><line x1="140.2" y1="386.9" x2="140.2" y2="381.4"/><line x1="143.8" y1="389.0" x2="143.8" y2="383.4"/><line x1="147.5" y1="391.2" x2="147.5" y2="385.5"/><line x1="151.2" y1="393.4" x2="151.2" y2="387.7"/><line x1="155.1" y1="395.7" x2="155.1" y2="389.9"/><line x1="159.1" y1="398.0" x2="159.1" y2="392.2"/><line x1="163.2" y1="400.4" x2="163.2" y2="394.6"/><line x1="167.4" y1="402.9" x2="167.4" y2="397.0"/><line x1="171.8" y1="405.5" x2="171.8" y2="399.5"/><line x1="176.2" y1="408.1" x2="176.2" y2="402.1"/><line x1="180.9" y1="410.9" x2="180.9" y2="404.8"/><line x1="185.6" y1="413.7" x2="185.6" y2="407.5"/><line x1="190.6" y1="416.6" x2="190.6" y2="410.3"/><line x1="195.6" y1="419.6" x2="195.6" y2="413.3"/><line x1="200.9" y1="422.7" x2="200.9" y2="416.3"/><line x1="206.3" y1="425.8" x2="206.3" y2="419.4"/><line x1="113.4" y1="367.4" x2="113.4" y2="362.3"/><line x1="116.2" y1="369.0" x2="116.2" y2="363.8"/><line x1="119.0" y1="370.6" x2="119.0" y2="365.5"/><line x1="122.0" y1="372.3" x2="122.0" y2="367.1"/><line x1="125.0" y1="374.0" x2="125.0" y2="368.8"/><line x1="128.0" y1="375.8" x2="128.0" y2="370.5"/><line x1="131.2" y1="377.6" x2="131.2" y2="372.3"/><line x1="134.4" y1="379.5" x2="134.4" y2="374.1"/><line x1="137.7" y1="381.4" x2="137.7" y2="376.0"/><line x1="141.1" y1="383.3" x2="141.1" y2="377.9"/><line x1="144.6" y1="385.3" x2="144.6" y2="379.8"/><line x1="148.2" y1="387.4" x2="148.2" y2="381.8"/><line x1="151.9" y1="389.5" x2="151.9" y2="383.9"/><line x1="155.7" y1="391.7" x2="155.7" y2="386.0"/><line x1="159.6" y1="393.9" x2="159.6" y2="388.2"/><line x1="163.6" y1="396.2" x2="163.6" y2="390.5"/><line x1="167.7" y1="398.6" x2="167.7" y2="392.8"/><line x1="172.0" y1="401.0" x2="172.0" y2="395.2"/><line x1="176.4" y1="403.5" x2="176.4" y2="397.6"/><line x1="180.9" y1="406.1" x2="180.9" y2="400.1"/><line x1="185.5" y1="408.8" x2="185.5" y2="402.7"/><line x1="190.3" y1="411.5" x2="190.3" y2="405.4"/><line x1="195.2" y1="414.4" x2="195.2" y2="408.2"/><line x1="200.3" y1="417.3" x2="200.3" y2="411.0"/><line x1="205.6" y1="420.3" x2="205.6" y2="414.0"/><line x1="211.0" y1="423.4" x2="211.0" y2="417.0"/><line x1="117.5" y1="366.2" x2="117.5" y2="361.1"/><line x1="120.3" y1="367.8" x2="120.3" y2="362.6"/><line x1="123.2" y1="369.4" x2="123.2" y2="364.2"/><line x1="126.1" y1="371.0" x2="126.1" y2="365.8"/><line x1="129.1" y1="372.7" x2="129.1" y2="367.5"/><line x1="132.2" y1="374.5" x2="132.2" y2="369.2"/><line x1="135.4" y1="376.2" x2="135.4" y2="370.9"/><line x1="138.7" y1="378.0" x2="138.7" y2="372.7"/><line x1="142.0" y1="379.9" x2="142.0" y2="374.5"/><line x1="145.4" y1="381.8" x2="145.4" y2="376.4"/><line x1="149.0" y1="383.8" x2="149.0" y2="378.3"/><line x1="152.6" y1="385.8" x2="152.6" y2="380.3"/><line x1="156.3" y1="387.9" x2="156.3" y2="382.3"/><line x1="160.1" y1="390.0" x2="160.1" y2="384.4"/><line x1="164.0" y1="392.2" x2="164.0" y2="386.5"/><line x1="168.0" y1="394.5" x2="168.0" y2="388.7"/><line x1="172.2" y1="396.8" x2="172.2" y2="391.0"/><line x1="176.5" y1="399.2" x2="176.5" y2="393.3"/><line x1="180.8" y1="401.6" x2="180.8" y2="395.7"/><line x1="185.4" y1="404.1" x2="185.4" y2="398.2"/><line x1="190.0" y1="406.7" x2="190.0" y2="400.7"/><line x1="194.8" y1="409.4" x2="194.8" y2="403.4"/><line x1="199.8" y1="412.2" x2="199.8" y2="406.1"/><line x1="204.9" y1="415.0" x2="204.9" y2="408.9"/><line x1="210.2" y1="418.0" x2="210.2" y2="411.7"/><line x1="215.6" y1="421.0" x2="215.6" y2="414.7"/><line x1="121.5" y1="365.0" x2="121.5" y2="359.9"/><line x1="124.3" y1="366.6" x2="124.3" y2="361.4"/><line x1="127.2" y1="368.1" x2="127.2" y2="363.0"/><line x1="130.2" y1="369.8" x2="130.2" y2="364.6"/><line x1="133.3" y1="371.4" x2="133.3" y2="366.2"/><line x1="136.4" y1="373.1" x2="136.4" y2="367.9"/><line x1="139.6" y1="374.9" x2="139.6" y2="369.6"/><line x1="142.9" y1="376.6" x2="142.9" y2="371.3"/><line x1="146.2" y1="378.5" x2="146.2" y2="373.1"/><line x1="149.7" y1="380.4" x2="149.7" y2="375.0"/><line x1="153.2" y1="382.3" x2="153.2" y2="376.8"/><line x1="156.8" y1="384.3" x2="156.8" y2="378.8"/><line x1="160.6" y1="386.3" x2="160.6" y2="380.8"/><line x1="164.4" y1="388.4" x2="164.4" y2="382.8"/><line x1="168.3" y1="390.5" x2="168.3" y2="384.9"/><line x1="172.4" y1="392.7" x2="172.4" y2="387.1"/><line x1="176.6" y1="395.0" x2="176.6" y2="389.3"/><line x1="180.8" y1="397.3" x2="180.8" y2="391.6"/><line x1="185.2" y1="399.7" x2="185.2" y2="393.9"/><line x1="189.8" y1="402.2" x2="189.8" y2="396.3"/><line x1="194.5" y1="404.8" x2="194.5" y2="398.8"/><line x1="199.3" y1="407.4" x2="199.3" y2="401.4"/><line x1="204.2" y1="410.1" x2="204.2" y2="404.0"/><line x1="209.4" y1="412.9" x2="209.4" y2="406.7"/><line x1="214.7" y1="415.8" x2="214.7" y2="409.5"/><line x1="220.1" y1="418.7" x2="220.1" y2="412.4"/><line x1="125.4" y1="363.8" x2="125.4" y2="358.8"/><line x1="128.3" y1="365.4" x2="128.3" y2="360.3"/><line x1="131.2" y1="366.9" x2="131.2" y2="361.8"/><line x1="134.2" y1="368.5" x2="134.2" y2="363.4"/><line x1="137.3" y1="370.1" x2="137.3" y2="365.0"/><line x1="140.4" y1="371.8" x2="140.4" y2="366.6"/><line x1="143.7" y1="373.5" x2="143.7" y2="368.3"/><line x1="147.0" y1="375.3" x2="147.0" y2="370.0"/><line x1="150.3" y1="377.1" x2="150.3" y2="371.7"/><line x1="153.8" y1="378.9" x2="153.8" y2="373.5"/><line x1="157.4" y1="380.8" x2="157.4" y2="375.4"/><line x1="161.0" y1="382.7" x2="161.0" y2="377.3"/><line x1="164.8" y1="384.7" x2="164.8" y2="379.2"/><line x1="168.6" y1="386.8" x2="168.6" y2="381.2"/><line x1="172.6" y1="388.9" x2="172.6" y2="383.3"/><line x1="176.7" y1="391.0" x2="176.7" y2="385.4"/><line x1="180.8" y1="393.3" x2="180.8" y2="387.6"/><line x1="185.1" y1="395.6" x2="185.1" y2="389.8"/><line x1="189.6" y1="397.9" x2="189.6" y2="392.1"/><line x1="194.1" y1="400.3" x2="194.1" y2="394.5"/><line x1="198.8" y1="402.8" x2="198.8" y2="396.9"/><line x1="203.6" y1="405.4" x2="203.6" y2="399.4"/><line x1="208.6" y1="408.0" x2="208.6" y2="402.0"/><line x1="213.7" y1="410.7" x2="213.7" y2="404.7"/><line x1="219.0" y1="413.6" x2="219.0" y2="407.4"/><line x1="224.5" y1="416.5" x2="224.5" y2="410.2"/><line x1="129.3" y1="362.7" x2="129.3" y2="357.7"/><line x1="132.2" y1="364.2" x2="132.2" y2="359.1"/><line x1="135.2" y1="365.7" x2="135.2" y2="360.6"/><line x1="138.2" y1="367.3" x2="138.2" y2="362.2"/><line x1="141.3" y1="368.9" x2="141.3" y2="363.7"/><line x1="144.4" y1="370.5" x2="144.4" y2="365.3"/><line x1="147.7" y1="372.2" x2="147.7" y2="367.0"/><line x1="151.0" y1="373.9" x2="151.0" y2="368.7"/><line x1="154.4" y1="375.7" x2="154.4" y2="370.4"/><line x1="157.9" y1="377.5" x2="157.9" y2="372.2"/><line x1="161.5" y1="379.4" x2="161.5" y2="374.0"/><line x1="165.1" y1="381.3" x2="165.1" y2="375.8"/><line x1="168.9" y1="383.2" x2="168.9" y2="377.7"/><line x1="172.8" y1="385.2" x2="172.8" y2="379.7"/><line x1="176.7" y1="387.3" x2="176.7" y2="381.7"/><line x1="180.8" y1="389.4" x2="180.8" y2="383.8"/><line x1="185.0" y1="391.6" x2="185.0" y2="385.9"/><line x1="189.3" y1="393.8" x2="189.3" y2="388.1"/><line x1="193.8" y1="396.1" x2="193.8" y2="390.4"/><line x1="198.3" y1="398.5" x2="198.3" y2="392.7"/><line x1="203.0" y1="400.9" x2="203.0" y2="395.0"/><line x1="207.9" y1="403.4" x2="207.9" y2="397.5"/><line x1="212.9" y1="406.0" x2="212.9" y2="400.0"/><line x1="218.0" y1="408.7" x2="218.0" y2="402.6"/><line x1="223.3" y1="411.4" x2="223.3" y2="405.3"/><line x1="228.8" y1="414.3" x2="228.8" y2="408.1"/><line x1="133.1" y1="361.6" x2="133.1" y2="356.6"/><line x1="136.0" y1="363.0" x2="136.0" y2="358.0"/><line x1="139.0" y1="364.5" x2="139.0" y2="359.5"/><line x1="142.1" y1="366.1" x2="142.1" y2="361.0"/><line x1="145.2" y1="367.6" x2="145.2" y2="362.5"/><line x1="148.3" y1="369.3" x2="148.3" y2="364.1"/><line x1="151.6" y1="370.9" x2="151.6" y2="365.7"/><line x1="154.9" y1="372.6" x2="154.9" y2="367.4"/><line x1="158.4" y1="374.3" x2="158.4" y2="369.1"/><line x1="161.9" y1="376.1" x2="161.9" y2="370.8"/><line x1="165.5" y1="377.9" x2="165.5" y2="372.6"/><line x1="169.2" y1="379.8" x2="169.2" y2="374.4"/><line x1="172.9" y1="381.7" x2="172.9" y2="376.3"/><line x1="176.8" y1="383.7" x2="176.8" y2="378.2"/><line x1="180.8" y1="385.7" x2="180.8" y2="380.2"/><line x1="184.9" y1="387.8" x2="184.9" y2="382.2"/><line x1="189.1" y1="389.9" x2="189.1" y2="384.3"/><line x1="193.5" y1="392.1" x2="193.5" y2="386.4"/><line x1="197.9" y1="394.3" x2="197.9" y2="388.6"/><line x1="202.5" y1="396.7" x2="202.5" y2="390.9"/><line x1="207.2" y1="399.0" x2="207.2" y2="393.2"/><line x1="212.0" y1="401.5" x2="212.0" y2="395.6"/><line x1="217.0" y1="404.0" x2="217.0" y2="398.1"/><line x1="222.2" y1="406.6" x2="222.2" y2="400.6"/><line x1="227.5" y1="409.3" x2="227.5" y2="403.3"/><line x1="233.0" y1="412.1" x2="233.0" y2="406.0"/><line x1="136.9" y1="360.5" x2="136.9" y2="355.5"/><line x1="139.8" y1="361.9" x2="139.8" y2="356.9"/><line x1="142.8" y1="363.4" x2="142.8" y2="358.3"/><line x1="145.9" y1="364.9" x2="145.9" y2="359.8"/><line x1="149.0" y1="366.4" x2="149.0" y2="361.3"/><line x1="152.2" y1="368.0" x2="152.2" y2="362.9"/><line x1="155.5" y1="369.6" x2="155.5" y2="364.5"/><line x1="158.8" y1="371.3" x2="158.8" y2="366.1"/><line x1="162.3" y1="373.0" x2="162.3" y2="367.8"/><line x1="165.8" y1="374.7" x2="165.8" y2="369.5"/><line x1="169.4" y1="376.5" x2="169.4" y2="371.2"/><line x1="173.1" y1="378.4" x2="173.1" y2="373.0"/><line x1="176.9" y1="380.2" x2="176.9" y2="374.8"/><line x1="180.8" y1="382.2" x2="180.8" y2="376.7"/><line x1="184.8" y1="384.1" x2="184.8" y2="378.7"/><line x1="188.9" y1="386.2" x2="188.9" y2="380.6"/><line x1="193.2" y1="388.3" x2="193.2" y2="382.7"/><line x1="197.5" y1="390.4" x2="197.5" y2="384.8"/><line x1="202.0" y1="392.6" x2="202.0" y2="386.9"/><line x1="206.5" y1="394.9" x2="206.5" y2="389.2"/><line x1="211.3" y1="397.2" x2="211.3" y2="391.4"/><line x1="216.1" y1="399.6" x2="216.1" y2="393.8"/><line x1="221.1" y1="402.1" x2="221.1" y2="396.2"/><line x1="226.3" y1="404.6" x2="226.3" y2="398.7"/><line x1="231.6" y1="407.3" x2="231.6" y2="401.3"/><line x1="237.1" y1="410.0" x2="237.1" y2="403.9"/><line x1="140.6" y1="359.4" x2="140.6" y2="354.4"/><line x1="143.5" y1="360.8" x2="143.5" y2="355.8"/><line x1="146.5" y1="362.2" x2="146.5" y2="357.2"/><line x1="149.6" y1="363.7" x2="149.6" y2="358.7"/><line x1="152.8" y1="365.2" x2="152.8" y2="360.2"/><line x1="156.0" y1="366.8" x2="156.0" y2="361.7"/><line x1="159.3" y1="368.4" x2="159.3" y2="363.2"/><line x1="162.7" y1="370.0" x2="162.7" y2="364.8"/><line x1="166.1" y1="371.7" x2="166.1" y2="366.5"/><line x1="169.6" y1="373.4" x2="169.6" y2="368.1"/><line x1="173.3" y1="375.2" x2="173.3" y2="369.9"/><line x1="177.0" y1="376.9" x2="177.0" y2="371.6"/><line x1="180.8" y1="378.8" x2="180.8" y2="373.4"/><line x1="184.7" y1="380.7" x2="184.7" y2="375.3"/><line x1="188.7" y1="382.6" x2="188.7" y2="377.2"/><line x1="192.9" y1="384.6" x2="192.9" y2="379.1"/><line x1="197.1" y1="386.7" x2="197.1" y2="381.1"/><line x1="201.4" y1="388.8" x2="201.4" y2="383.2"/><line x1="205.9" y1="390.9" x2="205.9" y2="385.3"/><line x1="210.5" y1="393.2" x2="210.5" y2="387.5"/><line x1="215.2" y1="395.4" x2="215.2" y2="389.7"/><line x1="220.1" y1="397.8" x2="220.1" y2="392.0"/><line x1="225.1" y1="400.2" x2="225.1" y2="394.4"/><line x1="230.3" y1="402.7" x2="230.3" y2="396.8"/><line x1="235.6" y1="405.3" x2="235.6" y2="399.3"/><line x1="241.0" y1="407.9" x2="241.0" y2="401.9"/><line x1="144.2" y1="358.3" x2="144.2" y2="353.3"/><line x1="147.2" y1="359.7" x2="147.2" y2="354.7"/><line x1="150.2" y1="361.1" x2="150.2" y2="356.1"/><line x1="153.3" y1="362.6" x2="153.3" y2="357.5"/><line x1="156.5" y1="364.1" x2="156.5" y2="359.0"/><line x1="159.7" y1="365.6" x2="159.7" y2="360.5"/><line x1="163.0" y1="367.2" x2="163.0" y2="362.0"/><line x1="166.4" y1="368.8" x2="166.4" y2="363.6"/><line x1="169.9" y1="370.4" x2="169.9" y2="365.2"/><line x1="173.4" y1="372.1" x2="173.4" y2="366.9"/><line x1="177.1" y1="373.8" x2="177.1" y2="368.5"/><line x1="180.8" y1="375.6" x2="180.8" y2="370.3"/><line x1="184.6" y1="377.4" x2="184.6" y2="372.0"/><line x1="188.6" y1="379.2" x2="188.6" y2="373.9"/><line x1="192.6" y1="381.1" x2="192.6" y2="375.7"/><line x1="196.7" y1="383.1" x2="196.7" y2="377.6"/><line x1="201.0" y1="385.1" x2="201.0" y2="379.6"/><line x1="205.3" y1="387.2" x2="205.3" y2="381.6"/><line x1="209.8" y1="389.3" x2="209.8" y2="383.7"/><line x1="214.4" y1="391.5" x2="214.4" y2="385.8"/><line x1="219.1" y1="393.7" x2="219.1" y2="388.0"/><line x1="224.0" y1="396.0" x2="224.0" y2="390.2"/><line x1="229.0" y1="398.4" x2="229.0" y2="392.5"/><line x1="234.2" y1="400.8" x2="234.2" y2="394.9"/><line x1="239.5" y1="403.3" x2="239.5" y2="397.4"/><line x1="245.0" y1="405.9" x2="245.0" y2="399.9"/><line x1="147.8" y1="357.2" x2="147.8" y2="352.3"/><line x1="150.8" y1="358.6" x2="150.8" y2="353.7"/><line x1="153.8" y1="360.0" x2="153.8" y2="355.0"/><line x1="156.9" y1="361.4" x2="156.9" y2="356.4"/><line x1="160.1" y1="362.9" x2="160.1" y2="357.9"/><line x1="163.4" y1="364.4" x2="163.4" y2="359.3"/><line x1="166.7" y1="365.9" x2="166.7" y2="360.8"/><line x1="170.1" y1="367.5" x2="170.1" y2="362.4"/><line x1="173.6" y1="369.1" x2="173.6" y2="364.0"/><line x1="177.1" y1="370.8" x2="177.1" y2="365.6"/><line x1="180.8" y1="372.5" x2="180.8" y2="367.2"/><line x1="184.5" y1="374.2" x2="184.5" y2="368.9"/><line x1="188.4" y1="376.0" x2="188.4" y2="370.7"/><line x1="192.3" y1="377.8" x2="192.3" y2="372.5"/><line x1="196.4" y1="379.7" x2="196.4" y2="374.3"/><line x1="200.5" y1="381.6" x2="200.5" y2="376.2"/><line x1="204.8" y1="383.6" x2="204.8" y2="378.1"/><line x1="209.1" y1="385.6" x2="209.1" y2="380.1"/><line x1="213.6" y1="387.7" x2="213.6" y2="382.1"/><line x1="218.2" y1="389.8" x2="218.2" y2="384.2"/><line x1="223.0" y1="392.0" x2="223.0" y2="386.3"/><line x1="227.8" y1="394.2" x2="227.8" y2="388.5"/><line x1="232.8" y1="396.5" x2="232.8" y2="390.8"/><line x1="238.0" y1="398.9" x2="238.0" y2="393.1"/><line x1="243.3" y1="401.4" x2="243.3" y2="395.5"/><line x1="248.8" y1="403.9" x2="248.8" y2="398.0"/></g>
<polygon points="76.5,397.0 130.0,427.0 130.0,420.0 76.5,390.0" fill="#c43c3c" opacity="0.8"/>
<polygon points="130.0,427.0 196.0,402.0 196.0,395.0 130.0,420.0" fill="#a0a0a8" opacity="0.55"/>
<polygon points="76.5,390.0 145.0,369.0 196.0,395.0 130.0,420.0" fill="url(#gDie)" opacity="0.82"/>
<g stroke="#f8f6f6" stroke-width="1.3" stroke-dasharray="2 1" opacity="0.85"><line x1="102.6" y1="388.5" x2="147.4" y2="374.3"/><line x1="106.5" y1="390.6" x2="151.2" y2="376.2"/><line x1="110.3" y1="392.7" x2="154.9" y2="378.2"/><line x1="114.3" y1="394.9" x2="158.7" y2="380.1"/><line x1="118.2" y1="397.0" x2="162.5" y2="382.1"/><line x1="122.1" y1="399.2" x2="166.4" y2="384.0"/><line x1="126.1" y1="401.3" x2="170.2" y2="386.0"/><line x1="130.1" y1="403.5" x2="174.1" y2="388.0"/><line x1="134.2" y1="405.8" x2="178.0" y2="390.0"/><line x1="138.3" y1="408.0" x2="181.9" y2="392.0"/></g>
<rect x="107.3" y="388.2" width="8" height="3.2" fill="#7a5f60" opacity="0.75"/><rect x="122.0" y="381.3" width="8" height="3.2" fill="#7a5f60" opacity="0.75"/><rect x="128.6" y="392.4" width="8" height="3.2" fill="#7a5f60" opacity="0.75"/><rect x="144.6" y="384.7" width="8" height="3.2" fill="#7a5f60" opacity="0.75"/><rect x="133.7" y="402.5" width="8" height="3.2" fill="#7a5f60" opacity="0.75"/><rect x="154.1" y="396.6" width="8" height="3.2" fill="#7a5f60" opacity="0.75"/><rect x="167.1" y="388.2" width="8" height="3.2" fill="#7a5f60" opacity="0.75"/>
<path d="M136.5,175 L140,179.6 L143.4,175 L143.4,192.3 L146.1,192.3 L140,199.2 L133.8,192.3 L136.5,192.3 Z" fill="#fff" stroke="#7a7a7a" stroke-width="1"/>
<path d="M140,310 L146.3,316.9 L143.4,316.9 L143.4,333.8 L140,329.2 L136.5,333.8 L136.5,316.9 L133.7,316.9 Z" fill="#fff" stroke="#7a7a7a" stroke-width="1"/>
<g stroke="#888" stroke-width="1.6"><line x1="223.8" y1="210" x2="278.3" y2="210"/><line x1="223.7" y1="297" x2="277.8" y2="297"/></g>
<g fill="none" stroke="#2a2a2a" stroke-width="1.15">
<path d="M250.00,210.00 L250.78,209.67 L251.47,209.34 L251.97,209.02 L252.22,208.71 L252.19,208.41 L251.88,208.12 L251.34,207.84 L250.61,207.57 L249.80,207.30 L249.00,207.04 L248.30,206.76 L247.80,206.49 L247.56,206.20 L247.59,205.89 L247.90,205.58 L248.45,205.26 L249.16,204.93 L249.96,204.59 L250.72,204.26 L251.37,203.93 L251.82,203.61 L252.02,203.30 L251.92,203.01 L251.56,202.72 L250.96,202.45 L250.21,202.18 L249.39,201.91 L248.61,201.64 L247.95,201.37 L247.50,201.09 L247.32,200.80 L247.41,200.49 L247.78,200.18 L248.37,199.85 L249.11,199.52 L249.91,199.19 L250.66,198.85 L251.27,198.53 L251.67,198.21 L251.80,197.90 L251.64,197.61 L251.22,197.33 L250.59,197.05 L249.81,196.79 L248.99,196.52 L248.22,196.25 L247.61,195.98 L247.21,195.69 L247.09,195.40 L247.25,195.09 L247.68,194.77 L248.31,194.44 L249.07,194.11 L249.86,193.78 L250.59,193.45 L251.16,193.12 L251.50,192.81 L251.57,192.50 L251.35,192.21 L250.87,191.93 L250.20,191.66 L249.41,191.39 L248.59,191.13 L247.85,190.86 L247.28,190.58 L246.94,190.29 L246.88,190.00 L247.10,189.69 L247.58,189.36 L248.25,189.04 L249.02,188.70 L249.81,188.37 L250.51,188.04 L251.03,187.72 L251.32,187.41 L251.32,187.11 L251.04,186.82 L250.52,186.54 L249.81,186.27 L249.00,186.00"/>
<path d="M252.00,296.00 L252.80,295.57 L253.51,295.15 L254.01,294.74 L254.27,294.34 L254.22,293.97 L253.89,293.61 L253.31,293.28 L252.54,292.95 L251.68,292.63 L250.83,292.31 L250.10,291.98 L249.57,291.64 L249.30,291.28 L249.32,290.91 L249.63,290.51 L250.19,290.09 L250.92,289.67 L251.74,289.24 L252.53,288.81 L253.19,288.39 L253.65,287.98 L253.84,287.59 L253.73,287.22 L253.34,286.87 L252.71,286.54 L251.91,286.21 L251.04,285.89 L250.21,285.57 L249.52,285.24 L249.04,284.90 L248.83,284.53 L248.92,284.15 L249.29,283.75 L249.90,283.33 L250.66,282.91 L251.47,282.48 L252.25,282.05 L252.87,281.63 L253.27,281.23 L253.39,280.84 L253.22,280.48 L252.77,280.13 L252.10,279.80 L251.27,279.48 L250.41,279.16 L249.60,278.83 L248.94,278.50 L248.52,278.15 L248.38,277.78 L248.54,277.40 L248.97,276.99 L249.61,276.57 L250.39,276.14 L251.21,275.71 L251.96,275.29 L252.54,274.87 L252.88,274.47 L252.94,274.09 L252.70,273.73 L252.19,273.39 L251.48,273.06 L250.64,272.74 L249.77,272.42 L248.99,272.09 L248.38,271.76 L248.02,271.41 L247.95,271.03 L248.17,270.64 L248.65,270.23 L249.33,269.81 L250.13,269.38 L250.94,268.95 L251.66,268.53 L252.19,268.11 L252.47,267.72 L252.47,267.34 L252.16,266.99 L251.61,266.65 L250.85,266.32 L250.00,266.00"/>
<path d="M251.00,298.00 L249.99,298.04 L249.11,298.14 L248.47,298.33 L248.15,298.65 L248.16,299.11 L248.49,299.69 L249.05,300.37 L249.75,301.10 L250.45,301.83 L251.01,302.51 L251.34,303.09 L251.35,303.55 L251.03,303.87 L250.39,304.06 L249.51,304.16 L248.50,304.20 L247.49,304.24 L246.61,304.34 L245.97,304.53 L245.65,304.85 L245.66,305.31 L245.99,305.89 L246.55,306.57 L247.25,307.30 L247.95,308.03 L248.51,308.71 L248.84,309.29 L248.85,309.75 L248.53,310.07 L247.89,310.26 L247.01,310.36 L246.00,310.40 L244.99,310.44 L244.11,310.54 L243.47,310.73 L243.15,311.05 L243.16,311.51 L243.49,312.09 L244.05,312.77 L244.75,313.50 L245.45,314.23 L246.01,314.91 L246.34,315.49 L246.35,315.95 L246.03,316.27 L245.39,316.46 L244.51,316.56 L243.50,316.60 L242.49,316.64 L241.61,316.74 L240.97,316.93 L240.65,317.25 L240.66,317.71 L240.99,318.29 L241.55,318.97 L242.25,319.70 L242.95,320.43 L243.51,321.11 L243.84,321.69 L243.85,322.15 L243.53,322.47 L242.89,322.66 L242.01,322.76 L241.00,322.80 L239.99,322.84 L239.11,322.94 L238.47,323.13 L238.15,323.45 L238.16,323.91 L238.49,324.49 L239.05,325.17 L239.75,325.90 L240.45,326.63 L241.01,327.31 L241.34,327.89 L241.35,328.35 L241.03,328.67 L240.39,328.86 L239.51,328.96 L238.50,329.00"/>
<path d="M270.00,333.50 L270.62,332.70 L271.11,331.97 L271.38,331.36 L271.35,330.91 L270.99,330.62 L270.34,330.50 L269.46,330.49 L268.45,330.55 L267.44,330.61 L266.56,330.60 L265.91,330.48 L265.55,330.19 L265.52,329.74 L265.79,329.13 L266.28,328.40 L266.90,327.60 L267.52,326.80 L268.01,326.07 L268.28,325.46 L268.25,325.01 L267.89,324.72 L267.24,324.60 L266.36,324.59 L265.35,324.65 L264.34,324.71 L263.46,324.70 L262.81,324.58 L262.45,324.29 L262.42,323.84 L262.69,323.23 L263.18,322.50 L263.80,321.70 L264.42,320.90 L264.91,320.17 L265.18,319.56 L265.15,319.11 L264.79,318.82 L264.14,318.70 L263.26,318.69 L262.25,318.75 L261.24,318.81 L260.36,318.80 L259.71,318.68 L259.35,318.39 L259.32,317.94 L259.59,317.33 L260.08,316.60 L260.70,315.80 L261.32,315.00 L261.81,314.27 L262.08,313.66 L262.05,313.21 L261.69,312.92 L261.04,312.80 L260.16,312.79 L259.15,312.85 L258.14,312.91 L257.26,312.90 L256.61,312.78 L256.25,312.49 L256.22,312.04 L256.49,311.43 L256.98,310.70 L257.60,309.90 L258.22,309.10 L258.71,308.37 L258.98,307.76 L258.95,307.31 L258.59,307.02 L257.94,306.90 L257.06,306.89 L256.05,306.95 L255.04,307.01 L254.16,307.00 L253.51,306.88 L253.15,306.59 L253.12,306.14 L253.39,305.53 L253.88,304.80 L254.50,304.00"/>
</g>
<polygon points="248.80,180.70 251.27,186.04 247.08,186.33" fill="#222"/>
<polygon points="250.00,260.40 252.51,265.73 248.32,266.04" fill="#222"/>
<polygon points="237.00,334.00 236.30,328.15 240.37,329.17" fill="#222"/>
<polygon points="253.60,300.00 256.49,305.13 252.34,305.75" fill="#222"/>
<g fill="#222"><circle cx="250" cy="220" r="0.9"/><circle cx="250" cy="235.5" r="0.9"/><circle cx="250" cy="253" r="0.9"/></g>
<g fill="#111" font-size="15.2">
<text x="229" y="68.8" transform="matrix(1 0 0 1.09 0 -6.192)">Heat sink</text>
<text x="66.8" y="300.4" transform="matrix(1 0 0 1.09 0 -27.036)">TIMs</text>
<text x="218" y="459.3" transform="matrix(1 0 0 1.09 0 -41.337)">Heat source</text>
</g>
<g fill="#222" font-size="11.2" class="it">
<text x="227.5" y="174" transform="matrix(1 0 0 1.09 0 -15.660)">Refraction</text>
<text x="199" y="354" transform="matrix(1 0 0 1.09 0 -31.860)">Reflection</text>
<text x="267.5" y="354" transform="matrix(1 0 0 1.09 0 -31.860)">Incidence</text>
<text x="284" y="213" transform="matrix(1 0 0 1.09 0 -19.170)" font-size="11.5">R<tspan font-size="8.5" dy="2.5">c2</tspan></text>
<text x="276" y="255" transform="matrix(1 0 0 1.09 0 -22.950)" font-size="11.5">R<tspan font-size="7.5" dy="2.5" fill="#555">material</tspan></text>
<text x="284.5" y="300.5" transform="matrix(1 0 0 1.09 0 -27.045)" font-size="11.5">R<tspan font-size="8.5" dy="2.5">c1</tspan></text>
</g>
<line x1="345.7" y1="18" x2="345.7" y2="485.5" stroke="#7d7d7d" stroke-width="2"/>
<g fill="#111" font-size="18">
<text x="361.2" y="40.7" transform="matrix(1 0 0 1.09 0 -3.663)">i</text>
<text x="361.2" y="212" transform="matrix(1 0 0 1.09 0 -19.080)">ii</text>
<text x="361.2" y="343.7" transform="matrix(1 0 0 1.09 0 -30.933)">iii</text>
</g>
<rect x="575" y="36.5" width="201" height="3.6" fill="url(#gMicro)"/>
<rect x="668.4" y="50" width="69.3" height="3.4" fill="#8cc0d8"/>
<rect x="680.7" y="65.2" width="49.5" height="3.4" fill="#90c2d8"/>
<rect x="509.3" y="79.6" width="102.3" height="3.4" fill="#a9d0e2"/>
<rect x="350" y="94.2" width="158.4" height="3.2" fill="url(#gAirFree)"/>
<g fill="#222" font-size="11.35" class="it">
<text x="461.5" y="41.7" transform="matrix(1 0 0 1.09 0 -3.753)">Microchannel cooling</text>
<text x="577.5" y="54.8" transform="matrix(1 0 0 1.09 0 -4.932)">Jet impingement</text>
<text x="604.8" y="71.5" transform="matrix(1 0 0 1.09 0 -6.435)">Spray cooling</text>
<text x="393.5" y="83.6" transform="matrix(1 0 0 1.09 0 -7.524)">Air-forced convection</text>
<text x="513.7" y="98.1" transform="matrix(1 0 0 1.09 0 -8.829)">Air-free convection</text>
</g>
<path d="M388.4,104.4 L609.8,101 L717,118 C733,110 752,92 755.5,72.7 L732.2,68.5 L770.2,49.5 L814.6,75.9 L788.2,74.8 C785,100 770,120 747,130.8 L637.7,114.9 L384.4,130 Z" fill="url(#gBlue)"/>
<polygon points="732.2,68.5 755.5,72.7 755.5,75.8 732.2,71.6" fill="#1f5b80"/>
<polygon points="788.2,74.8 814.6,75.9 814.6,78.8 788.2,77.7" fill="#1f5b80"/>
<path d="M732.2,68.5 L770.2,49.5 L814.6,75.9 L788.2,74.8 L755.5,72.7 Z" fill="#3592c4"/>
<circle cx="426.3" cy="127.7" r="7.6" fill="#fafcfd" stroke="#111" stroke-width="1.9"/>
<circle cx="493.7" cy="121.2" r="7" fill="#fafcfd" stroke="#111" stroke-width="1.9"/>
<circle cx="525.8" cy="119" r="6.3" fill="#fafcfd" stroke="#111" stroke-width="1.9"/>
<circle cx="597" cy="113" r="5.5" fill="#fafcfd" stroke="#111" stroke-width="1.9"/>
<circle cx="627.9" cy="109.5" r="5" fill="#fafcfd" stroke="#111" stroke-width="1.9"/>
<circle cx="697.8" cy="120.2" r="3.6" fill="#fafcfd" stroke="#111" stroke-width="1.9"/>
<circle cx="728.4" cy="122.8" r="2.8" fill="#fafcfd" stroke="#111" stroke-width="1.9"/>
<line x1="345.5" y1="150.7" x2="812" y2="150.7" stroke="#7ab0bf" stroke-width="1.3"/><line x1="351.94" y1="150.7" x2="351.94" y2="158.2" stroke="#7ab0bf" stroke-width="1.2"/><line x1="369.87" y1="150.7" x2="369.87" y2="158.2" stroke="#7ab0bf" stroke-width="1.2"/><line x1="382.59" y1="150.7" x2="382.59" y2="158.2" stroke="#7ab0bf" stroke-width="1.2"/><line x1="392.46" y1="150.7" x2="392.46" y2="158.2" stroke="#7ab0bf" stroke-width="1.2"/><line x1="400.52" y1="150.7" x2="400.52" y2="158.2" stroke="#7ab0bf" stroke-width="1.2"/><line x1="407.33" y1="150.7" x2="407.33" y2="158.2" stroke="#7ab0bf" stroke-width="1.2"/><line x1="413.23" y1="150.7" x2="413.23" y2="158.2" stroke="#7ab0bf" stroke-width="1.2"/><line x1="418.44" y1="150.7" x2="418.44" y2="158.2" stroke="#7ab0bf" stroke-width="1.2"/><line x1="423.10" y1="150.7" x2="423.10" y2="164.2" stroke="#7ab0bf" stroke-width="1.2"/><line x1="453.74" y1="150.7" x2="453.74" y2="158.2" stroke="#7ab0bf" stroke-width="1.2"/><line x1="471.67" y1="150.7" x2="471.67" y2="158.2" stroke="#7ab0bf" stroke-width="1.2"/><line x1="484.39" y1="150.7" x2="484.39" y2="158.2" stroke="#7ab0bf" stroke-width="1.2"/><line x1="494.26" y1="150.7" x2="494.26" y2="158.2" stroke="#7ab0bf" stroke-width="1.2"/><line x1="502.32" y1="150.7" x2="502.32" y2="158.2" stroke="#7ab0bf" stroke-width="1.2"/><line x1="509.13" y1="150.7" x2="509.13" y2="158.2" stroke="#7ab0bf" stroke-width="1.2"/><line x1="515.03" y1="150.7" x2="515.03" y2="158.2" stroke="#7ab0bf" stroke-width="1.2"/><line x1="520.24" y1="150.7" x2="520.24" y2="158.2" stroke="#7ab0bf" stroke-width="1.2"/><line x1="524.90" y1="150.7" x2="524.90" y2="164.2" stroke="#7ab0bf" stroke-width="1.2"/><line x1="555.54" y1="150.7" x2="555.54" y2="158.2" stroke="#7ab0bf" stroke-width="1.2"/><line x1="573.47" y1="150.7" x2="573.47" y2="158.2" stroke="#7ab0bf" stroke-width="1.2"/><line x1="586.19" y1="150.7" x2="586.19" y2="158.2" stroke="#7ab0bf" stroke-width="1.2"/><line x1="596.06" y1="150.7" x2="596.06" y2="158.2" stroke="#7ab0bf" stroke-width="1.2"/><line x1="604.12" y1="150.7" x2="604.12" y2="158.2" stroke="#7ab0bf" stroke-width="1.2"/><line x1="610.93" y1="150.7" x2="610.93" y2="158.2" stroke="#7ab0bf" stroke-width="1.2"/><line x1="616.83" y1="150.7" x2="616.83" y2="158.2" stroke="#7ab0bf" stroke-width="1.2"/><line x1="622.04" y1="150.7" x2="622.04" y2="158.2" stroke="#7ab0bf" stroke-width="1.2"/><line x1="626.70" y1="150.7" x2="626.70" y2="164.2" stroke="#7ab0bf" stroke-width="1.2"/><line x1="657.34" y1="150.7" x2="657.34" y2="158.2" stroke="#7ab0bf" stroke-width="1.2"/><line x1="675.27" y1="150.7" x2="675.27" y2="158.2" stroke="#7ab0bf" stroke-width="1.2"/><line x1="687.99" y1="150.7" x2="687.99" y2="158.2" stroke="#7ab0bf" stroke-width="1.2"/><line x1="697.86" y1="150.7" x2="697.86" y2="158.2" stroke="#7ab0bf" stroke-width="1.2"/><line x1="705.92" y1="150.7" x2="705.92" y2="158.2" stroke="#7ab0bf" stroke-width="1.2"/><line x1="712.73" y1="150.7" x2="712.73" y2="158.2" stroke="#7ab0bf" stroke-width="1.2"/><line x1="718.63" y1="150.7" x2="718.63" y2="158.2" stroke="#7ab0bf" stroke-width="1.2"/><line x1="723.84" y1="150.7" x2="723.84" y2="158.2" stroke="#7ab0bf" stroke-width="1.2"/><line x1="728.50" y1="150.7" x2="728.50" y2="164.2" stroke="#7ab0bf" stroke-width="1.2"/><line x1="759.14" y1="150.7" x2="759.14" y2="158.2" stroke="#7ab0bf" stroke-width="1.2"/><line x1="777.07" y1="150.7" x2="777.07" y2="158.2" stroke="#7ab0bf" stroke-width="1.2"/><line x1="789.79" y1="150.7" x2="789.79" y2="158.2" stroke="#7ab0bf" stroke-width="1.2"/>
<polygon points="817,150.7 810,147.8 810,153.6" fill="#7ab0bf"/>
<g fill="#5d9cb5" font-size="11" text-anchor="middle">
<text x="425.1" y="176" transform="matrix(1 0 0 1.09 0 -15.840)">1</text>
<text x="526.9" y="176" transform="matrix(1 0 0 1.09 0 -15.840)">10</text>
<text x="628.7" y="176" transform="matrix(1 0 0 1.09 0 -15.840)">100</text>
<text x="730.5" y="176" transform="matrix(1 0 0 1.09 0 -15.840)">1000</text>
</g>
<text x="790" y="176" transform="matrix(1 0 0 1.09 0 -15.840)" fill="#5d9cb5" font-size="11"><tspan class="it">q</tspan> (W/cm<tspan font-size="7" dy="-4">2</tspan><tspan dy="4">)</tspan></text>
<g fill="url(#gGrayBar)">
<rect x="515.8" y="209.8" width="90.2" height="3.8"/>
<rect x="519.5" y="225.5" width="35" height="3.5"/>
<rect x="594" y="242.5" width="21.3" height="3.6"/>
<rect x="468.1" y="257.8" width="162.7" height="3.6"/>
<rect x="554" y="273.2" width="79" height="3.8"/>
</g>
<g fill="#222" font-size="11.3" class="it">
<text x="416" y="214" transform="matrix(1 0 0 1.09 0 -19.260)">Vertical nanowires</text>
<text x="462" y="230.2" transform="matrix(1 0 0 1.09 0 -20.718)">Graphene</text>
<text x="400" y="246.1" transform="matrix(1 0 0 1.09 0 -22.149)">Polymer</text>
<text x="400" y="259.7" transform="matrix(1 0 0 1.09 0 -23.373)">composites</text>
<text x="552" y="247.1" transform="matrix(1 0 0 1.09 0 -22.239)">Solder</text>
<text x="447.5" y="278.7" transform="matrix(1 0 0 1.09 0 -25.083)">LM and composites</text>
<text x="726.5" y="268.8" transform="matrix(1 0 0 1.09 0 -24.192)" font-size="11.1">Theoretical limit</text>
</g>
<g fill="#222" font-size="15.1" class="it" text-anchor="middle">
<text x="682" y="233.4" transform="matrix(1 0 0 1.09 0 -21.006)">Big</text>
<text x="681.8" y="250.8" transform="matrix(1 0 0 1.09 0 -22.572)">missing</text>
<text x="682.2" y="268.3" transform="matrix(1 0 0 1.09 0 -24.147)">area</text>
</g>
<g stroke="#555" stroke-width="1.3" stroke-dasharray="3 2.5"><line x1="639.3" y1="197" x2="639.3" y2="296"/><line x1="722.6" y1="197" x2="722.6" y2="296"/></g>
<rect x="722.6" y="278" width="83.4" height="3.6" fill="#7a7a7a"/>
<polygon points="389.5,296 808,296 808,292.5 822,299 808,305.5 808,302 389.5,302" fill="url(#gAxis2)"/>
<line x1="389.40" y1="288.5" x2="389.40" y2="296" stroke="#c8c8c8" stroke-width="1"/><line x1="414.48" y1="291.5" x2="414.48" y2="296" stroke="#c8c8c8" stroke-width="1"/><line x1="429.14" y1="291.5" x2="429.14" y2="296" stroke="#c8c8c8" stroke-width="1"/><line x1="439.55" y1="291.5" x2="439.55" y2="296" stroke="#c8c8c8" stroke-width="1"/><line x1="447.62" y1="291.5" x2="447.62" y2="296" stroke="#c8c8c8" stroke-width="1"/><line x1="454.22" y1="291.5" x2="454.22" y2="296" stroke="#c8c8c8" stroke-width="1"/><line x1="459.80" y1="291.5" x2="459.80" y2="296" stroke="#c8c8c8" stroke-width="1"/><line x1="464.63" y1="291.5" x2="464.63" y2="296" stroke="#c8c8c8" stroke-width="1"/><line x1="468.89" y1="291.5" x2="468.89" y2="296" stroke="#c8c8c8" stroke-width="1"/><line x1="472.70" y1="288.5" x2="472.70" y2="296" stroke="#c8c8c8" stroke-width="1"/><line x1="497.78" y1="291.5" x2="497.78" y2="296" stroke="#c8c8c8" stroke-width="1"/><line x1="512.44" y1="291.5" x2="512.44" y2="296" stroke="#c8c8c8" stroke-width="1"/><line x1="522.85" y1="291.5" x2="522.85" y2="296" stroke="#c8c8c8" stroke-width="1"/><line x1="530.92" y1="291.5" x2="530.92" y2="296" stroke="#c8c8c8" stroke-width="1"/><line x1="537.52" y1="291.5" x2="537.52" y2="296" stroke="#c8c8c8" stroke-width="1"/><line x1="543.10" y1="291.5" x2="543.10" y2="296" stroke="#c8c8c8" stroke-width="1"/><line x1="547.93" y1="291.5" x2="547.93" y2="296" stroke="#c8c8c8" stroke-width="1"/><line x1="552.19" y1="291.5" x2="552.19" y2="296" stroke="#c8c8c8" stroke-width="1"/><line x1="556.00" y1="288.5" x2="556.00" y2="296" stroke="#c8c8c8" stroke-width="1"/><line x1="581.08" y1="291.5" x2="581.08" y2="296" stroke="#aaaaaa" stroke-width="1"/><line x1="595.74" y1="291.5" x2="595.74" y2="296" stroke="#aaaaaa" stroke-width="1"/><line x1="606.15" y1="291.5" x2="606.15" y2="296" stroke="#aaaaaa" stroke-width="1"/><line x1="614.22" y1="291.5" x2="614.22" y2="296" stroke="#aaaaaa" stroke-width="1"/><line x1="620.82" y1="291.5" x2="620.82" y2="296" stroke="#aaaaaa" stroke-width="1"/><line x1="626.40" y1="291.5" x2="626.40" y2="296" stroke="#aaaaaa" stroke-width="1"/><line x1="631.23" y1="291.5" x2="631.23" y2="296" stroke="#aaaaaa" stroke-width="1"/><line x1="635.49" y1="291.5" x2="635.49" y2="296" stroke="#aaaaaa" stroke-width="1"/><line x1="639.30" y1="288.5" x2="639.30" y2="296" stroke="#aaaaaa" stroke-width="1"/><line x1="664.38" y1="291.5" x2="664.38" y2="296" stroke="#aaaaaa" stroke-width="1"/><line x1="679.04" y1="291.5" x2="679.04" y2="296" stroke="#aaaaaa" stroke-width="1"/><line x1="689.45" y1="291.5" x2="689.45" y2="296" stroke="#aaaaaa" stroke-width="1"/><line x1="697.52" y1="291.5" x2="697.52" y2="296" stroke="#aaaaaa" stroke-width="1"/><line x1="704.12" y1="291.5" x2="704.12" y2="296" stroke="#999999" stroke-width="1"/><line x1="709.70" y1="291.5" x2="709.70" y2="296" stroke="#999999" stroke-width="1"/><line x1="714.53" y1="291.5" x2="714.53" y2="296" stroke="#999999" stroke-width="1"/><line x1="718.79" y1="291.5" x2="718.79" y2="296" stroke="#999999" stroke-width="1"/><line x1="722.60" y1="288.5" x2="722.60" y2="296" stroke="#999999" stroke-width="1"/><line x1="747.68" y1="291.5" x2="747.68" y2="296" stroke="#999999" stroke-width="1"/><line x1="762.34" y1="291.5" x2="762.34" y2="296" stroke="#999999" stroke-width="1"/><line x1="772.75" y1="291.5" x2="772.75" y2="296" stroke="#999999" stroke-width="1"/><line x1="780.82" y1="291.5" x2="780.82" y2="296" stroke="#999999" stroke-width="1"/><line x1="787.42" y1="291.5" x2="787.42" y2="296" stroke="#999999" stroke-width="1"/><line x1="793.00" y1="291.5" x2="793.00" y2="296" stroke="#999999" stroke-width="1"/><line x1="797.83" y1="291.5" x2="797.83" y2="296" stroke="#999999" stroke-width="1"/><line x1="802.09" y1="291.5" x2="802.09" y2="296" stroke="#999999" stroke-width="1"/>
<g fill="#222" font-size="11" text-anchor="middle">
<text x="391.4" y="318.5" transform="matrix(1 0 0 1.09 0 -28.665)">1000</text>
<text x="474.7" y="318.5" transform="matrix(1 0 0 1.09 0 -28.665)">100</text>
<text x="558.0" y="318.5" transform="matrix(1 0 0 1.09 0 -28.665)">10</text>
<text x="641.3" y="318.5" transform="matrix(1 0 0 1.09 0 -28.665)">1</text>
<text x="724.6" y="318.5" transform="matrix(1 0 0 1.09 0 -28.665)">0.1</text>
</g>
<text x="773" y="316" transform="matrix(1 0 0 1.09 0 -28.440)" fill="#222" font-size="11.5"><tspan class="it">R</tspan><tspan font-size="7.5" dy="2" class="it">eff</tspan><tspan dy="-2"> mm</tspan><tspan font-size="7" dy="-4">2</tspan><tspan dy="4"> K/W</tspan></text>
<path d="M382.9,354.5 L437.3,345.5 L637,381.9 L744.9,368 C765,378 782,400 786,424.9 L813.5,423.6 L768.6,451.1 L729.9,429.9 L754.4,427.4 C750,405 735,385 713.7,381.2 L612,394.8 L388.6,386 Z" fill="url(#gGreen)"/>
<polygon points="729.9,429.9 754.4,427.4 754.4,430.4 731.5,432.6" fill="#1e4b4e"/>
<polygon points="786,424.9 813.5,423.6 812,426.5 786,428" fill="#1e4b4e"/>
<circle cx="425.4" cy="370.2" r="7.6" fill="#fff" stroke="#111" stroke-width="2"/>
<circle cx="493.8" cy="374.8" r="7" fill="#fff" stroke="#111" stroke-width="2"/>
<circle cx="527.2" cy="379.3" r="6.2" fill="#fff" stroke="#111" stroke-width="2"/>
<circle cx="596.9" cy="386" r="5.4" fill="#fff" stroke="#111" stroke-width="2"/>
<circle cx="626.6" cy="388.1" r="4.5" fill="#fff" stroke="#111" stroke-width="2"/>
<circle cx="697.9" cy="378.7" r="3.5" fill="#fff" stroke="#111" stroke-width="2"/>
<circle cx="727.9" cy="378.7" r="2.8" fill="#fff" stroke="#111" stroke-width="2"/>
<rect x="488" y="405" width="107.5" height="3.4" fill="#e0e7da"/>
<rect x="530.7" y="419.8" width="77.3" height="3.4" fill="#c6dab9"/>
<rect x="577.6" y="436" width="43.3" height="3.4" fill="#a9c99a"/>
<rect x="613.6" y="453.2" width="44.1" height="3.6" fill="#6b9762"/>
<rect x="565" y="469" width="115.1" height="3.8" fill="#8eaa84"/>
<g fill="#222" font-size="11.2" class="it">
<text x="456" y="410.4" transform="matrix(1 0 0 1.09 0 -36.936)">CPU</text>
<text x="490.5" y="425.7" transform="matrix(1 0 0 1.09 0 -38.313)">FPGA</text>
<text x="628" y="441" transform="matrix(1 0 0 1.09 0 -39.690)">GPU</text>
<text x="667" y="457.3" transform="matrix(1 0 0 1.09 0 -41.157)">SiC transistor</text>
<text x="480" y="473.1" transform="matrix(1 0 0 1.09 0 -42.579)">GaN transistor</text>
</g>
<text x="746.5" y="469.3" transform="matrix(1 0 0 1.09 0 -42.237)" fill="#111" font-size="14.9">Future</text>
<line x1="345.5" y1="484.7" x2="812" y2="484.7" stroke="#a3ae99" stroke-width="1.3"/>
<polygon points="818,484.7 811,482 811,487.4" fill="#a3ae99"/>
<line x1="353.95" y1="484.7" x2="353.95" y2="492.7" stroke="#a3ae99" stroke-width="1.2"/><line x1="371.83" y1="484.7" x2="371.83" y2="492.7" stroke="#a3ae99" stroke-width="1.2"/><line x1="384.51" y1="484.7" x2="384.51" y2="492.7" stroke="#a3ae99" stroke-width="1.2"/><line x1="394.35" y1="484.7" x2="394.35" y2="492.7" stroke="#a3ae99" stroke-width="1.2"/><line x1="402.38" y1="484.7" x2="402.38" y2="492.7" stroke="#a3ae99" stroke-width="1.2"/><line x1="409.18" y1="484.7" x2="409.18" y2="492.7" stroke="#a3ae99" stroke-width="1.2"/><line x1="415.06" y1="484.7" x2="415.06" y2="492.7" stroke="#a3ae99" stroke-width="1.2"/><line x1="420.26" y1="484.7" x2="420.26" y2="492.7" stroke="#a3ae99" stroke-width="1.2"/><line x1="424.90" y1="484.7" x2="424.90" y2="499.7" stroke="#a3ae99" stroke-width="1.2"/><line x1="455.45" y1="484.7" x2="455.45" y2="492.7" stroke="#a3ae99" stroke-width="1.2"/><line x1="473.33" y1="484.7" x2="473.33" y2="492.7" stroke="#a3ae99" stroke-width="1.2"/><line x1="486.01" y1="484.7" x2="486.01" y2="492.7" stroke="#a3ae99" stroke-width="1.2"/><line x1="495.85" y1="484.7" x2="495.85" y2="492.7" stroke="#a3ae99" stroke-width="1.2"/><line x1="503.88" y1="484.7" x2="503.88" y2="492.7" stroke="#a3ae99" stroke-width="1.2"/><line x1="510.68" y1="484.7" x2="510.68" y2="492.7" stroke="#a3ae99" stroke-width="1.2"/><line x1="516.56" y1="484.7" x2="516.56" y2="492.7" stroke="#a3ae99" stroke-width="1.2"/><line x1="521.76" y1="484.7" x2="521.76" y2="492.7" stroke="#a3ae99" stroke-width="1.2"/><line x1="526.40" y1="484.7" x2="526.40" y2="499.7" stroke="#a3ae99" stroke-width="1.2"/><line x1="556.95" y1="484.7" x2="556.95" y2="492.7" stroke="#a3ae99" stroke-width="1.2"/><line x1="574.83" y1="484.7" x2="574.83" y2="492.7" stroke="#a3ae99" stroke-width="1.2"/><line x1="587.51" y1="484.7" x2="587.51" y2="492.7" stroke="#a3ae99" stroke-width="1.2"/><line x1="597.35" y1="484.7" x2="597.35" y2="492.7" stroke="#a3ae99" stroke-width="1.2"/><line x1="605.38" y1="484.7" x2="605.38" y2="492.7" stroke="#a3ae99" stroke-width="1.2"/><line x1="612.18" y1="484.7" x2="612.18" y2="492.7" stroke="#a3ae99" stroke-width="1.2"/><line x1="618.06" y1="484.7" x2="618.06" y2="492.7" stroke="#a3ae99" stroke-width="1.2"/><line x1="623.26" y1="484.7" x2="623.26" y2="492.7" stroke="#a3ae99" stroke-width="1.2"/><line x1="627.90" y1="484.7" x2="627.90" y2="499.7" stroke="#a3ae99" stroke-width="1.2"/><line x1="658.45" y1="484.7" x2="658.45" y2="492.7" stroke="#a3ae99" stroke-width="1.2"/><line x1="676.33" y1="484.7" x2="676.33" y2="492.7" stroke="#a3ae99" stroke-width="1.2"/><line x1="689.01" y1="484.7" x2="689.01" y2="492.7" stroke="#a3ae99" stroke-width="1.2"/><line x1="698.85" y1="484.7" x2="698.85" y2="492.7" stroke="#a3ae99" stroke-width="1.2"/><line x1="706.88" y1="484.7" x2="706.88" y2="492.7" stroke="#a3ae99" stroke-width="1.2"/><line x1="713.68" y1="484.7" x2="713.68" y2="492.7" stroke="#a3ae99" stroke-width="1.2"/><line x1="719.56" y1="484.7" x2="719.56" y2="492.7" stroke="#a3ae99" stroke-width="1.2"/><line x1="724.76" y1="484.7" x2="724.76" y2="492.7" stroke="#a3ae99" stroke-width="1.2"/><line x1="729.40" y1="484.7" x2="729.40" y2="499.7" stroke="#a3ae99" stroke-width="1.2"/><line x1="759.95" y1="484.7" x2="759.95" y2="492.7" stroke="#a3ae99" stroke-width="1.2"/><line x1="777.83" y1="484.7" x2="777.83" y2="492.7" stroke="#a3ae99" stroke-width="1.2"/><line x1="790.51" y1="484.7" x2="790.51" y2="492.7" stroke="#a3ae99" stroke-width="1.2"/>
<g fill="#9aaa8c" font-size="11" text-anchor="middle">
<text x="426.4" y="513" transform="matrix(1 0 0 1.09 0 -46.170)">1</text>
<text x="527.9" y="513" transform="matrix(1 0 0 1.09 0 -46.170)">10</text>
<text x="629.4" y="513" transform="matrix(1 0 0 1.09 0 -46.170)">100</text>
<text x="730.9" y="513" transform="matrix(1 0 0 1.09 0 -46.170)">1000</text>
</g>
<text x="792" y="513" transform="matrix(1 0 0 1.09 0 -46.170)" fill="#9aaa8c" font-size="11"><tspan class="it">q</tspan> (W/cm<tspan font-size="7" dy="-4">2</tspan><tspan dy="4">)</tspan></text>
</svg></body></html>
